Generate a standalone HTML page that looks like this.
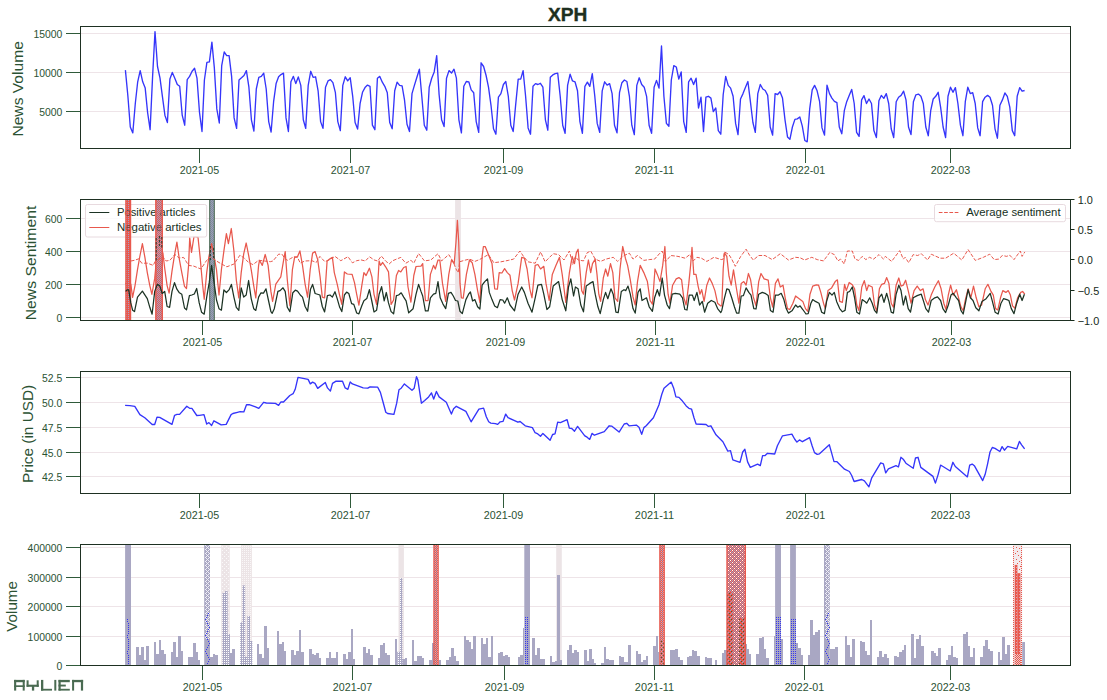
<!DOCTYPE html>
<html><head><meta charset="utf-8"><title>XPH</title>
<style>html,body{margin:0;padding:0;background:#fff;}body{width:1107px;height:700px;overflow:hidden;font-family:"Liberation Sans",sans-serif;}svg{display:block;}</style></head>
<body>
<svg width="1107" height="700" viewBox="0 0 1107 700" font-family="Liberation Sans, sans-serif">
<defs>
<pattern id="pRedDot" width="2" height="2" patternUnits="userSpaceOnUse"><rect width="2" height="2" fill="#e8584d"/><rect x="0" y="0" width="1" height="1" fill="#a3a3c8"/></pattern>
<pattern id="pChk" width="2" height="2" patternUnits="userSpaceOnUse"><rect width="2" height="2" fill="#a3a3c8"/><rect x="0" y="0" width="1" height="1" fill="#e8584d"/><rect x="1" y="1" width="1" height="1" fill="#e8584d"/></pattern>
<pattern id="pGry" width="2" height="2" patternUnits="userSpaceOnUse"><rect width="2" height="2" fill="#9d9dba"/><rect x="0" y="0" width="1" height="1" fill="#7f8f9a"/><rect x="1" y="1" width="1" height="1" fill="#7f8f9a"/></pattern>
<pattern id="pLtDot" width="2" height="2" patternUnits="userSpaceOnUse"><rect width="2" height="2" fill="#ece4e6"/><rect x="0" y="0" width="1" height="1" fill="#faf7f8"/></pattern>
<pattern id="pBarDot" width="2" height="2" patternUnits="userSpaceOnUse"><rect width="2" height="2" fill="#a9a7c3"/><rect x="0" y="0" width="1" height="1" fill="#ffffff"/></pattern>
<pattern id="pWide" width="4" height="4" patternUnits="userSpaceOnUse"><rect width="4" height="4" fill="#e8584d"/><rect x="0" y="0" width="1" height="1" fill="#a3a3c8"/><rect x="2" y="0" width="1" height="1" fill="#fff"/><rect x="1" y="1" width="1" height="1" fill="#a3a3c8"/><rect x="3" y="1" width="1" height="1" fill="#a3a3c8"/><rect x="0" y="2" width="1" height="1" fill="#fff"/><rect x="2" y="2" width="1" height="1" fill="#a3a3c8"/><rect x="1" y="3" width="1" height="1" fill="#a3a3c8"/><rect x="3" y="3" width="1" height="1" fill="#a3a3c8"/></pattern>
<pattern id="pWide2" width="2" height="2" patternUnits="userSpaceOnUse"><rect width="2" height="2" fill="#e8584d"/><rect x="0" y="0" width="1" height="1" fill="#a3a3c8"/><rect x="1" y="1" width="1" height="1" fill="#e9a39f"/></pattern>
<pattern id="pGrnDot" width="4" height="4" patternUnits="userSpaceOnUse"><rect x="1" y="1" width="1" height="1" fill="#3f5f3a"/><rect x="3" y="3" width="1" height="1" fill="#3f5f3a"/></pattern>
<pattern id="pRedX" width="2" height="2" patternUnits="userSpaceOnUse"><rect width="2" height="2" fill="#efc9c9"/><rect x="0" y="0" width="1" height="1" fill="#e8584d"/><rect x="1" y="1" width="1" height="1" fill="#e8584d"/></pattern>
<clipPath id="c0"><rect x="80.5" y="26.5" width="990.0" height="122.0"/></clipPath>
<clipPath id="c1"><rect x="80.5" y="199.5" width="990.0" height="121.0"/></clipPath>
<clipPath id="c2"><rect x="80.5" y="371.5" width="990.0" height="122.0"/></clipPath>
<clipPath id="c3"><rect x="80.5" y="544.5" width="990.0" height="121.0"/></clipPath>
<clipPath id="cb"><rect x="125.2" y="199" width="6" height="122"/><rect x="155.1" y="199" width="7.9" height="122"/><rect x="209.2" y="199" width="5.6" height="122"/></clipPath>
<clipPath id="cb3"><rect x="210.2" y="199" width="3.6" height="122"/></clipPath>
<clipPath id="cbc"><rect x="126.6" y="199" width="3.4" height="122"/><rect x="156.6" y="199" width="5.0" height="122"/></clipPath>
<pattern id="pDotV" width="1" height="2" patternUnits="userSpaceOnUse"><rect width="1" height="1" fill="#e8584d"/></pattern>
<pattern id="pDotL" width="1" height="3" patternUnits="userSpaceOnUse"><rect width="1" height="1" fill="#dba0ae"/></pattern>
<pattern id="pSparse" width="4" height="4" patternUnits="userSpaceOnUse"><rect width="4" height="4" fill="#e8584d"/><rect x="0" y="0" width="1" height="1" fill="#a3a3c8"/><rect x="2" y="2" width="1" height="1" fill="#a3a3c8"/><rect x="3" y="1" width="1" height="1" fill="#a3a3c8"/></pattern>
<pattern id="pLtDot4" width="4" height="4" patternUnits="userSpaceOnUse"><rect width="4" height="4" fill="#ece4e6"/><rect x="0" y="0" width="1" height="1" fill="#fbf9fa"/><rect x="2" y="2" width="1" height="1" fill="#fbf9fa"/></pattern>
</defs>
<rect width="1107" height="700" fill="#fff"/>
<line x1="80.5" x2="1070.5" y1="33.5" y2="33.5" stroke="#eee4e8" stroke-width="1"/>
<line x1="80.5" x2="1070.5" y1="72.5" y2="72.5" stroke="#eee4e8" stroke-width="1"/>
<line x1="80.5" x2="1070.5" y1="111.5" y2="111.5" stroke="#eee4e8" stroke-width="1"/>
<line x1="80.5" x2="1070.5" y1="218.5" y2="218.5" stroke="#eee4e8" stroke-width="1"/>
<line x1="80.5" x2="1070.5" y1="251.5" y2="251.5" stroke="#eee4e8" stroke-width="1"/>
<line x1="80.5" x2="1070.5" y1="284.5" y2="284.5" stroke="#eee4e8" stroke-width="1"/>
<line x1="80.5" x2="1070.5" y1="317.5" y2="317.5" stroke="#eee4e8" stroke-width="1"/>
<line x1="80.5" x2="1070.5" y1="377.5" y2="377.5" stroke="#eee4e8" stroke-width="1"/>
<line x1="80.5" x2="1070.5" y1="402.5" y2="402.5" stroke="#eee4e8" stroke-width="1"/>
<line x1="80.5" x2="1070.5" y1="427.5" y2="427.5" stroke="#eee4e8" stroke-width="1"/>
<line x1="80.5" x2="1070.5" y1="452.5" y2="452.5" stroke="#eee4e8" stroke-width="1"/>
<line x1="80.5" x2="1070.5" y1="476.5" y2="476.5" stroke="#eee4e8" stroke-width="1"/>
<line x1="80.5" x2="1070.5" y1="547.5" y2="547.5" stroke="#eee4e8" stroke-width="1"/>
<line x1="80.5" x2="1070.5" y1="577.5" y2="577.5" stroke="#eee4e8" stroke-width="1"/>
<line x1="80.5" x2="1070.5" y1="606.5" y2="606.5" stroke="#eee4e8" stroke-width="1"/>
<line x1="80.5" x2="1070.5" y1="636.5" y2="636.5" stroke="#eee4e8" stroke-width="1"/>
<g clip-path="url(#c0)"><polyline points="125.4,70.1 127.9,96.3 130.3,127.0 132.8,132.9 135.3,103.5 137.7,81.8 140.2,70.6 142.7,81.8 145.2,88.1 147.6,112.5 150.1,129.7 152.6,76.4 155.0,31.6 157.5,66.5 160.0,78.2 162.4,96.3 164.9,115.2 167.4,122.5 169.9,79.1 172.3,72.4 174.8,78.2 177.3,84.5 179.7,86.3 182.2,115.2 184.7,125.2 187.2,79.6 189.6,76.4 192.1,71.3 194.6,68.3 197.0,78.2 199.5,112.5 202.0,131.5 204.4,80.0 206.9,62.3 209.4,61.9 211.9,42.1 214.3,67.4 216.8,108.9 219.3,123.0 221.7,65.6 224.2,52.0 226.7,55.6 229.1,55.6 231.6,76.4 234.1,117.9 236.6,128.4 239.0,80.0 241.5,77.8 244.0,75.5 246.4,70.6 248.9,87.2 251.4,119.8 253.9,131.0 256.3,89.0 258.8,77.3 261.3,76.4 263.7,73.1 266.2,89.0 268.7,121.6 271.1,132.0 273.6,101.7 276.1,83.6 278.6,76.8 281.0,74.6 283.5,73.1 286.0,117.9 288.4,131.5 290.9,81.8 293.4,76.4 295.8,83.6 298.3,76.9 300.8,85.4 303.3,119.8 305.7,128.4 308.2,85.4 310.7,71.3 313.1,77.3 315.6,76.8 318.1,90.8 320.6,121.6 323.0,128.4 325.5,87.2 328.0,80.9 330.4,79.6 332.9,82.7 335.4,92.7 337.8,121.6 340.3,130.6 342.8,85.4 345.3,76.8 347.7,80.9 350.2,77.7 352.7,96.3 355.1,122.5 357.6,129.1 360.1,103.5 362.5,92.3 365.0,87.6 367.5,85.1 370.0,86.3 372.4,125.2 374.9,129.7 377.4,78.2 379.8,76.4 382.3,82.2 384.8,86.3 387.3,92.7 389.7,122.5 392.2,128.8 394.7,90.8 397.1,82.2 399.6,85.4 402.1,85.8 404.5,99.9 407.0,124.3 409.5,131.5 412.0,93.6 414.4,85.4 416.9,77.3 419.4,69.2 421.8,96.3 424.3,125.2 426.8,130.2 429.2,87.2 431.7,78.2 434.2,71.9 436.7,55.6 439.1,94.5 441.6,119.8 444.1,126.6 446.5,78.2 449.0,70.6 451.5,73.1 454.0,69.2 456.4,78.2 458.9,119.8 461.4,132.9 463.8,86.3 466.3,81.5 468.8,81.8 471.2,89.9 473.7,92.7 476.2,121.6 478.7,132.4 481.1,62.8 483.6,66.5 486.1,75.5 488.5,87.2 491.0,105.3 493.5,128.8 495.9,134.2 498.4,97.2 500.9,93.6 503.4,84.5 505.8,81.5 508.3,96.3 510.8,125.2 513.2,131.5 515.7,104.4 518.2,79.1 520.7,79.1 523.1,70.6 525.6,96.3 528.1,127.9 530.5,134.2 533.0,86.3 535.5,83.6 537.9,84.5 540.4,83.3 542.9,87.2 545.4,119.8 547.8,130.2 550.3,77.3 552.8,74.9 555.2,73.7 557.7,73.1 560.2,96.3 562.7,125.2 565.1,133.3 567.6,85.4 570.1,74.2 572.5,80.9 575.0,81.8 577.5,90.8 579.9,121.6 582.4,133.3 584.9,86.3 587.4,82.2 589.8,86.3 592.3,73.7 594.8,96.3 597.2,123.4 599.7,132.4 602.2,90.8 604.6,81.8 607.1,85.1 609.6,83.6 612.1,93.6 614.5,125.2 617.0,132.9 619.5,92.7 621.9,82.7 624.4,80.0 626.9,81.5 629.4,96.3 631.8,125.2 634.3,134.6 636.8,85.4 639.2,77.8 641.7,84.5 644.2,87.2 646.6,96.3 649.1,125.2 651.6,133.3 654.1,87.2 656.5,80.4 659.0,88.1 661.5,46.0 663.9,96.3 666.4,123.4 668.9,126.3 671.3,80.0 673.8,65.6 676.3,67.0 678.8,79.1 681.2,71.9 683.7,121.6 686.2,132.4 688.6,81.8 691.1,78.2 693.6,84.5 696.1,78.2 698.5,108.0 701.0,97.2 703.5,131.5 705.9,97.2 708.4,96.3 710.9,98.1 713.3,111.6 715.8,108.0 718.3,130.6 720.8,134.2 723.2,94.5 725.7,76.4 728.2,85.4 730.6,88.1 733.1,96.3 735.6,123.4 738.0,134.6 740.5,99.0 743.0,93.6 745.5,87.2 747.9,81.5 750.4,101.7 752.9,122.5 755.3,132.4 757.8,93.6 760.3,84.5 762.8,89.0 765.2,90.5 767.7,95.4 770.2,127.0 772.6,135.1 775.1,93.6 777.6,94.5 780.0,91.8 782.5,98.1 785.0,119.8 787.5,136.9 789.9,139.3 792.4,127.0 794.9,119.4 797.3,118.9 799.8,117.0 802.3,126.1 804.8,140.5 807.2,141.8 809.7,108.9 812.2,89.9 814.6,85.4 817.1,90.8 819.6,101.7 822.0,127.9 824.5,135.1 827.0,85.1 829.5,93.6 831.9,98.1 834.4,101.3 836.9,102.6 839.3,127.0 841.8,133.8 844.3,110.7 846.7,101.7 849.2,95.4 851.7,89.4 854.2,103.5 856.6,132.4 859.1,136.4 861.6,99.9 864.0,95.7 866.5,103.5 869.0,99.0 871.5,103.5 873.9,130.6 876.4,137.5 878.9,100.8 881.3,95.4 883.8,98.4 886.3,93.6 888.7,103.5 891.2,128.8 893.7,137.5 896.2,101.7 898.6,97.2 901.1,95.4 903.6,91.2 906.0,99.9 908.5,127.0 911.0,134.6 913.4,101.7 915.9,94.8 918.4,94.1 920.9,96.3 923.3,103.5 925.8,127.0 928.3,135.7 930.7,110.7 933.2,99.0 935.7,96.3 938.2,92.3 940.6,107.1 943.1,127.0 945.6,137.5 948.0,96.3 950.5,87.2 953.0,92.3 955.4,87.6 957.9,103.5 960.4,125.2 962.9,135.7 965.3,101.7 967.8,87.2 970.3,93.6 972.7,92.7 975.2,103.5 977.7,127.9 980.1,135.7 982.6,101.7 985.1,97.2 987.6,95.4 990.0,97.2 992.5,105.3 995.0,128.8 997.4,138.2 999.9,105.3 1002.4,99.9 1004.9,93.0 1007.3,96.3 1009.8,107.1 1012.3,130.6 1014.7,135.7 1017.2,96.3 1019.7,87.6 1022.1,91.2 1024.6,90.5" fill="none" stroke="#3535fa" stroke-width="1.35" stroke-linejoin="round" /></g>
<g clip-path="url(#c1)">
<rect x="455.1" y="199.5" width="5.8" height="121.0" fill="#ece4e6"/>
<polyline points="125.6,282.7 127.2,285.6 130.8,284.1 132.6,297.4 135.0,285.6 137.5,269.7 139.9,256.0 142.4,243.7 144.9,257.4 147.3,272.6 149.8,285.6 151.9,294.3 154.7,278.4 157.3,250.9 159.0,239.3 161.2,248.0 162.9,253.1 164.7,268.2 167.1,285.6 169.1,293.1 172.0,271.1 174.5,255.2 176.9,242.2 179.4,259.6 181.8,272.6 184.5,286.3 186.5,288.5 188.6,265.4 189.7,237.9 191.5,252.3 194.0,236.5 198.0,237.2 200.2,258.1 202.4,282.7 204.2,299.3 206.7,272.6 208.9,256.7 211.6,243.7 214.1,256.7 216.5,269.7 219.0,295.0 221.4,269.7 223.9,250.9 226.4,233.6 228.4,243.7 231.3,228.5 233.9,250.9 236.3,279.8 238.8,297.9 241.2,272.6 243.7,253.8 246.2,243.0 248.6,255.2 251.2,269.7 253.7,285.6 255.8,297.9 258.6,265.4 259.5,260.3 262.3,265.4 265.2,254.5 268.1,265.4 270.9,291.4 272.6,301.5 275.8,284.1 278.7,279.8 280.8,276.9 283.7,259.6 285.2,251.6 287.3,279.8 289.9,305.8 292.4,269.7 294.6,257.4 297.5,256.7 299.9,250.9 302.5,265.4 305.1,284.1 307.6,297.1 310.2,269.7 312.6,253.1 315.1,251.6 317.7,259.6 320.1,276.9 322.3,297.1 324.6,297.9 327.1,261.0 330.0,258.8 332.4,257.4 334.3,272.6 337.2,284.1 339.4,294.3 341.8,304.4 344.4,271.9 347.3,274.0 352.1,274.3 354.5,282.7 356.7,294.3 358.9,305.1 361.8,285.6 363.9,272.6 366.1,275.5 369.4,268.2 371.9,276.9 374.0,294.3 376.6,304.4 379.1,261.0 380.5,265.4 382.7,262.5 385.6,266.8 388.5,271.9 391.1,304.4 393.6,300.0 396.4,275.5 398.6,270.4 400.8,271.9 403.7,267.5 406.1,266.5 408.0,287.0 410.9,302.2 413.8,275.5 416.0,266.5 421.0,266.1 422.7,263.6 425.4,300.5 428.1,300.5 430.4,274.4 433.5,265.4 435.3,269.0 438.0,260.0 439.8,260.0 442.5,283.4 445.7,301.4 448.8,274.4 451.5,260.0 454.2,263.6 456.0,242.0 457.4,220.4 458.7,242.0 460.0,283.4 461.4,297.8 463.2,298.2 466.4,274.4 469.5,260.0 472.2,262.7 474.9,274.4 477.6,290.6 479.9,302.3 482.1,256.4 483.4,246.5 485.2,246.5 488.4,254.6 492.0,263.6 494.7,288.8 497.4,289.2 499.2,272.6 501.9,273.0 504.6,268.6 507.3,272.6 510.0,275.3 512.2,290.6 514.5,300.0 518.1,283.4 521.7,257.3 524.4,258.2 527.1,269.0 529.8,288.8 532.0,297.8 535.2,265.4 537.9,264.5 540.6,269.0 543.8,266.3 546.0,283.4 549.2,300.5 552.3,274.4 555.9,265.4 559.5,257.3 562.2,274.4 565.8,302.3 569.4,272.6 572.2,256.4 574.5,263.6 576.3,252.8 578.1,249.2 579.9,269.0 581.7,290.6 583.5,294.2 586.2,272.6 588.4,260.0 590.7,272.6 592.5,263.6 595.2,259.1 597.0,274.4 598.8,294.2 600.6,301.4 603.3,278.0 605.6,269.0 607.8,276.2 610.5,263.6 612.8,272.6 615.0,297.8 617.7,301.4 620.0,269.0 622.7,246.5 625.4,258.2 627.6,265.4 630.3,279.8 633.0,296.9 635.2,305.0 637.5,281.6 640.2,265.4 643.8,272.6 647.4,281.6 650.1,300.5 652.4,304.1 655.0,269.0 657.3,274.4 660.0,281.6 662.7,265.4 664.9,246.5 666.3,272.6 668.1,294.2 669.9,303.2 672.6,285.2 676.2,278.9 678.9,277.6 681.6,279.8 683.8,297.8 686.1,305.0 688.8,283.4 690.6,265.4 692.0,247.4 693.8,274.4 696.0,274.4 698.1,286.1 699.9,294.2 701.7,289.7 704.1,301.4 706.8,285.2 709.5,278.0 712.2,283.4 714.9,290.6 717.6,303.2 720.8,305.9 721.8,305.9 723.2,269.0 724.5,252.8 726.8,256.4 729.0,276.2 731.2,285.2 733.5,269.9 736.2,287.0 738.9,303.2 741.2,283.4 743.8,281.6 746.1,285.2 748.4,273.5 750.6,279.8 753.3,296.9 756.0,305.9 758.7,281.6 761.0,273.5 764.1,278.9 768.2,280.2 770.4,297.8 772.7,307.2 775.4,283.4 778.0,278.9 780.3,287.0 783.0,285.2 785.2,297.8 787.5,308.6 789.8,309.5 792.9,303.2 795.6,296.0 799.2,298.7 802.8,301.4 805.5,308.6 807.8,311.3 810.0,294.2 812.7,286.1 816.3,284.8 818.6,285.2 820.8,292.4 823.5,303.2 825.3,308.6 828.0,290.6 831.6,287.9 835.2,281.6 837.4,279.8 839.7,301.4 842.4,302.3 844.6,284.3 846.3,290.6 849.2,282.5 852.3,284.8 854.6,288.8 856.8,305.0 858.9,310.4 861.8,287.0 864.3,280.7 866.7,290.6 868.5,285.2 872.2,287.0 874.5,305.0 876.8,311.3 879.4,288.8 881.7,284.3 884.4,283.4 886.7,277.6 888.9,283.4 891.2,303.2 893.4,307.2 896.1,285.2 898.8,278.0 901.0,286.1 903.3,285.2 905.6,280.2 908.2,290.6 911.0,303.2 914.1,290.6 917.2,286.1 920.4,290.6 923.1,288.8 925.4,299.6 928.0,305.0 931.2,295.1 934.8,287.0 938.4,280.7 941.1,288.8 943.8,303.2 946.0,309.5 948.3,295.1 950.6,285.2 953.2,295.1 956.4,289.7 958.6,297.8 960.9,306.8 963.2,310.8 965.4,299.6 968.1,288.8 970.8,297.8 973.5,286.1 976.2,297.8 978.9,306.8 981.6,305.0 985.2,288.8 987.9,284.3 990.6,290.6 993.3,295.1 995.6,308.6 997.8,310.0 1000.5,297.8 1002.8,290.6 1005.9,292.4 1008.2,290.6 1010.4,295.1 1012.5,305.9 1014.9,308.2 1017.6,297.8 1020.8,292.4 1022.6,291.5 1024.8,294.2" fill="none" stroke="#e8584d" stroke-width="1.25" stroke-linejoin="round" />
<polyline points="125.6,291.4 127.2,289.9 128.7,289.9 130.8,302.9 132.6,310.2 134.5,311.6 137.5,297.1 142.4,291.1 147.3,298.6 149.8,307.3 152.1,314.2 154.7,291.4 157.3,284.4 159.7,285.6 162.2,293.5 164.7,291.4 167.1,306.5 169.6,307.3 172.0,291.4 174.5,282.7 176.9,289.2 179.4,292.8 181.8,294.3 184.5,308.0 186.5,309.9 189.4,295.7 191.8,295.0 194.3,294.0 196.7,288.5 199.2,302.9 201.6,312.3 204.2,314.2 206.7,297.1 209.2,282.7 211.6,265.4 214.1,282.7 216.5,300.0 219.0,308.7 221.4,310.2 223.9,289.9 226.4,292.5 229.0,289.9 231.4,284.4 233.9,297.1 236.3,307.3 238.8,310.4 241.2,287.8 243.7,297.1 246.2,295.0 248.6,280.5 251.2,298.6 253.7,308.7 255.8,310.4 258.6,297.1 261.0,292.8 263.5,293.1 266.0,288.8 268.4,300.0 270.9,311.6 272.2,313.3 274.3,308.7 277.9,291.4 280.1,290.6 283.0,287.8 285.2,291.4 287.3,307.3 289.9,311.6 292.8,292.8 295.3,290.2 297.5,291.1 300.3,295.0 302.5,297.1 305.1,306.5 307.6,311.3 310.5,289.2 312.6,284.4 315.1,293.5 319.9,295.0 322.3,306.5 324.6,311.9 327.4,295.7 330.0,295.0 332.4,297.1 335.0,291.7 337.2,298.6 339.7,307.3 341.8,311.6 344.4,295.0 346.6,292.1 348.8,293.5 351.6,303.6 353.8,304.4 356.7,313.0 358.9,313.8 361.8,305.8 363.9,300.8 366.8,298.6 369.4,289.6 371.9,301.5 374.0,311.9 376.6,310.2 379.1,294.3 381.6,286.7 384.2,300.8 386.3,292.5 388.5,302.9 391.1,311.6 393.6,313.8 396.4,295.7 398.6,295.0 401.2,292.8 403.7,297.1 406.1,300.8 408.7,312.8 413.1,308.7 416.0,294.3 418.6,284.4 421.0,291.4 422.7,296.0 425.4,310.8 428.1,310.8 430.4,297.8 433.5,294.2 435.8,293.3 438.0,281.6 440.2,297.8 443.0,304.1 445.7,308.6 448.4,293.3 451.0,292.4 453.3,296.0 455.5,300.5 457.8,301.0 460.0,311.3 462.3,313.6 465.9,299.6 468.6,294.2 470.4,292.0 472.6,301.0 474.9,299.6 477.6,306.8 479.9,309.0 482.1,285.2 484.8,281.6 487.5,278.9 489.3,292.4 492.0,299.6 494.7,305.9 497.4,307.7 500.1,299.6 502.8,300.0 504.6,303.2 507.3,297.8 510.0,305.0 514.5,310.8 518.1,294.2 521.7,287.0 524.4,292.4 528.0,303.2 532.0,312.2 535.2,297.8 537.9,285.2 541.5,284.3 543.8,294.2 546.9,309.5 549.6,306.8 553.2,286.1 558.6,281.6 562.2,299.6 565.8,310.8 568.5,287.0 570.8,278.9 573.6,296.0 575.4,287.0 578.1,288.8 580.8,305.0 583.5,311.8 586.2,286.1 589.8,283.4 593.0,281.6 595.2,294.2 597.9,306.8 600.2,313.6 603.3,299.6 605.6,292.4 607.8,298.7 611.0,288.8 613.2,294.2 615.9,312.2 618.2,312.6 621.3,291.5 624.0,289.7 625.8,290.6 628.0,286.1 630.3,294.2 633.0,308.6 635.2,313.1 638.0,292.4 640.2,288.8 642.0,300.5 646.5,297.8 649.2,306.8 652.4,311.3 654.6,297.8 657.3,289.7 659.5,296.0 662.2,278.0 664.5,295.1 667.2,305.0 669.5,308.6 672.2,294.2 675.3,293.3 679.8,294.2 682.5,297.8 684.8,309.5 687.0,310.0 689.2,295.1 692.4,295.1 694.2,300.5 696.9,292.4 699.6,305.0 702.3,301.4 704.6,312.2 707.7,303.2 711.3,300.5 714.9,302.3 717.6,308.6 720.8,312.6 721.8,310.4 724.5,297.8 726.8,288.8 729.0,289.7 731.7,297.8 734.4,306.8 736.6,313.1 738.9,313.1 741.2,296.0 743.4,295.6 746.1,287.9 748.8,292.4 751.0,295.1 753.8,308.6 756.0,309.0 758.7,294.2 762.3,292.4 765.0,293.3 768.2,295.6 770.4,310.4 773.1,312.2 775.4,295.1 778.5,295.1 781.2,293.3 783.9,299.6 786.2,308.6 788.4,313.1 792.0,310.8 795.6,305.0 797.8,307.2 800.1,305.9 802.8,309.5 806.0,314.0 808.2,313.6 810.9,303.2 812.7,299.6 815.4,301.4 819.0,303.2 821.7,312.2 824.4,313.6 826.6,301.4 829.4,292.4 832.0,295.1 834.3,292.4 836.6,301.4 839.7,308.6 842.4,311.8 845.1,310.4 847.4,292.4 849.6,291.5 852.3,287.0 854.6,297.8 856.8,312.2 859.5,314.0 862.2,299.6 864.9,301.4 866.7,303.2 869.7,297.8 872.2,303.2 874.5,310.4 876.8,313.1 879.0,297.8 881.7,294.2 884.0,302.3 886.7,293.3 888.9,301.4 891.2,312.2 893.4,313.1 896.1,294.2 898.8,285.2 901.0,290.6 903.3,305.0 905.6,296.0 908.2,308.6 910.5,312.2 913.2,297.8 917.2,295.6 921.3,294.2 923.6,301.4 925.8,308.6 928.5,312.2 931.2,300.5 934.8,297.8 937.5,296.9 940.6,300.5 942.9,308.6 945.6,312.6 948.3,305.0 951.0,295.1 953.2,293.3 956.4,297.8 958.6,300.5 960.9,310.4 963.2,314.0 965.4,303.2 968.1,289.7 970.4,297.8 973.0,300.5 975.8,307.7 978.9,310.8 982.0,301.4 986.1,298.7 990.2,293.3 992.4,301.4 995.1,312.2 998.1,314.0 1001.0,303.2 1003.5,298.7 1006.8,299.6 1008.9,300.5 1011.3,308.6 1014.0,313.6 1016.7,303.2 1019.7,294.2 1022.1,300.5 1024.4,294.2" fill="none" stroke="#1c3324" stroke-width="1.25" stroke-linejoin="round" />
<rect x="85.5" y="204.5" width="121.2" height="32.5" rx="2" fill="#fff" fill-opacity="0.8" stroke="#e8dadf" stroke-width="1"/>
<line x1="89.3" x2="109.3" y1="212.5" y2="212.5" stroke="#1c3324" stroke-width="1.1"/>
<text x="116.9" y="216" font-size="10.8" fill="#16301d" textLength="78.4" lengthAdjust="spacingAndGlyphs">Positive articles</text>
<line x1="89.3" x2="109.3" y1="227.5" y2="227.5" stroke="#e8584d" stroke-width="1.1"/>
<text x="116.9" y="230.7" font-size="10.8" fill="#16301d" textLength="84.6" lengthAdjust="spacingAndGlyphs">Negative articles</text>
<rect x="125.2" y="199.5" width="6" height="121.0" fill="#e8584d"/>
<rect x="126.6" y="199.5" width="3.4" height="121.0" fill="url(#pRedDot)"/>
<rect x="155.1" y="199.5" width="7.9" height="121.0" fill="#e8584d"/>
<rect x="156.6" y="199.5" width="5.0" height="121.0" fill="url(#pChk)"/>
<rect x="209.2" y="199.5" width="5.6" height="121.0" fill="#3f5f49"/>
<rect x="210.2" y="199.5" width="3.6" height="121.0" fill="url(#pGry)"/>
<g clip-path="url(#cb3)"><polyline points="125.6,282.7 127.2,285.6 130.8,284.1 132.6,297.4 135.0,285.6 137.5,269.7 139.9,256.0 142.4,243.7 144.9,257.4 147.3,272.6 149.8,285.6 151.9,294.3 154.7,278.4 157.3,250.9 159.0,239.3 161.2,248.0 162.9,253.1 164.7,268.2 167.1,285.6 169.1,293.1 172.0,271.1 174.5,255.2 176.9,242.2 179.4,259.6 181.8,272.6 184.5,286.3 186.5,288.5 188.6,265.4 189.7,237.9 191.5,252.3 194.0,236.5 198.0,237.2 200.2,258.1 202.4,282.7 204.2,299.3 206.7,272.6 208.9,256.7 211.6,243.7 214.1,256.7 216.5,269.7 219.0,295.0 221.4,269.7 223.9,250.9 226.4,233.6 228.4,243.7 231.3,228.5 233.9,250.9 236.3,279.8 238.8,297.9 241.2,272.6 243.7,253.8 246.2,243.0 248.6,255.2 251.2,269.7 253.7,285.6 255.8,297.9 258.6,265.4 259.5,260.3 262.3,265.4 265.2,254.5 268.1,265.4 270.9,291.4 272.6,301.5 275.8,284.1 278.7,279.8 280.8,276.9 283.7,259.6 285.2,251.6 287.3,279.8 289.9,305.8 292.4,269.7 294.6,257.4 297.5,256.7 299.9,250.9 302.5,265.4 305.1,284.1 307.6,297.1 310.2,269.7 312.6,253.1 315.1,251.6 317.7,259.6 320.1,276.9 322.3,297.1 324.6,297.9 327.1,261.0 330.0,258.8 332.4,257.4 334.3,272.6 337.2,284.1 339.4,294.3 341.8,304.4 344.4,271.9 347.3,274.0 352.1,274.3 354.5,282.7 356.7,294.3 358.9,305.1 361.8,285.6 363.9,272.6 366.1,275.5 369.4,268.2 371.9,276.9 374.0,294.3 376.6,304.4 379.1,261.0 380.5,265.4 382.7,262.5 385.6,266.8 388.5,271.9 391.1,304.4 393.6,300.0 396.4,275.5 398.6,270.4 400.8,271.9 403.7,267.5 406.1,266.5 408.0,287.0 410.9,302.2 413.8,275.5 416.0,266.5 421.0,266.1 422.7,263.6 425.4,300.5 428.1,300.5 430.4,274.4 433.5,265.4 435.3,269.0 438.0,260.0 439.8,260.0 442.5,283.4 445.7,301.4 448.8,274.4 451.5,260.0 454.2,263.6 456.0,242.0 457.4,220.4 458.7,242.0 460.0,283.4 461.4,297.8 463.2,298.2 466.4,274.4 469.5,260.0 472.2,262.7 474.9,274.4 477.6,290.6 479.9,302.3 482.1,256.4 483.4,246.5 485.2,246.5 488.4,254.6 492.0,263.6 494.7,288.8 497.4,289.2 499.2,272.6 501.9,273.0 504.6,268.6 507.3,272.6 510.0,275.3 512.2,290.6 514.5,300.0 518.1,283.4 521.7,257.3 524.4,258.2 527.1,269.0 529.8,288.8 532.0,297.8 535.2,265.4 537.9,264.5 540.6,269.0 543.8,266.3 546.0,283.4 549.2,300.5 552.3,274.4 555.9,265.4 559.5,257.3 562.2,274.4 565.8,302.3 569.4,272.6 572.2,256.4 574.5,263.6 576.3,252.8 578.1,249.2 579.9,269.0 581.7,290.6 583.5,294.2 586.2,272.6 588.4,260.0 590.7,272.6 592.5,263.6 595.2,259.1 597.0,274.4 598.8,294.2 600.6,301.4 603.3,278.0 605.6,269.0 607.8,276.2 610.5,263.6 612.8,272.6 615.0,297.8 617.7,301.4 620.0,269.0 622.7,246.5 625.4,258.2 627.6,265.4 630.3,279.8 633.0,296.9 635.2,305.0 637.5,281.6 640.2,265.4 643.8,272.6 647.4,281.6 650.1,300.5 652.4,304.1 655.0,269.0 657.3,274.4 660.0,281.6 662.7,265.4 664.9,246.5 666.3,272.6 668.1,294.2 669.9,303.2 672.6,285.2 676.2,278.9 678.9,277.6 681.6,279.8 683.8,297.8 686.1,305.0 688.8,283.4 690.6,265.4 692.0,247.4 693.8,274.4 696.0,274.4 698.1,286.1 699.9,294.2 701.7,289.7 704.1,301.4 706.8,285.2 709.5,278.0 712.2,283.4 714.9,290.6 717.6,303.2 720.8,305.9 721.8,305.9 723.2,269.0 724.5,252.8 726.8,256.4 729.0,276.2 731.2,285.2 733.5,269.9 736.2,287.0 738.9,303.2 741.2,283.4 743.8,281.6 746.1,285.2 748.4,273.5 750.6,279.8 753.3,296.9 756.0,305.9 758.7,281.6 761.0,273.5 764.1,278.9 768.2,280.2 770.4,297.8 772.7,307.2 775.4,283.4 778.0,278.9 780.3,287.0 783.0,285.2 785.2,297.8 787.5,308.6 789.8,309.5 792.9,303.2 795.6,296.0 799.2,298.7 802.8,301.4 805.5,308.6 807.8,311.3 810.0,294.2 812.7,286.1 816.3,284.8 818.6,285.2 820.8,292.4 823.5,303.2 825.3,308.6 828.0,290.6 831.6,287.9 835.2,281.6 837.4,279.8 839.7,301.4 842.4,302.3 844.6,284.3 846.3,290.6 849.2,282.5 852.3,284.8 854.6,288.8 856.8,305.0 858.9,310.4 861.8,287.0 864.3,280.7 866.7,290.6 868.5,285.2 872.2,287.0 874.5,305.0 876.8,311.3 879.4,288.8 881.7,284.3 884.4,283.4 886.7,277.6 888.9,283.4 891.2,303.2 893.4,307.2 896.1,285.2 898.8,278.0 901.0,286.1 903.3,285.2 905.6,280.2 908.2,290.6 911.0,303.2 914.1,290.6 917.2,286.1 920.4,290.6 923.1,288.8 925.4,299.6 928.0,305.0 931.2,295.1 934.8,287.0 938.4,280.7 941.1,288.8 943.8,303.2 946.0,309.5 948.3,295.1 950.6,285.2 953.2,295.1 956.4,289.7 958.6,297.8 960.9,306.8 963.2,310.8 965.4,299.6 968.1,288.8 970.8,297.8 973.5,286.1 976.2,297.8 978.9,306.8 981.6,305.0 985.2,288.8 987.9,284.3 990.6,290.6 993.3,295.1 995.6,308.6 997.8,310.0 1000.5,297.8 1002.8,290.6 1005.9,292.4 1008.2,290.6 1010.4,295.1 1012.5,305.9 1014.9,308.2 1017.6,297.8 1020.8,292.4 1022.6,291.5 1024.8,294.2" fill="none" stroke="#e8584d" stroke-width="1.25" stroke-linejoin="round" /></g>
<g clip-path="url(#cb)"><polyline points="125.6,291.4 127.2,289.9 128.7,289.9 130.8,302.9 132.6,310.2 134.5,311.6 137.5,297.1 142.4,291.1 147.3,298.6 149.8,307.3 152.1,314.2 154.7,291.4 157.3,284.4 159.7,285.6 162.2,293.5 164.7,291.4 167.1,306.5 169.6,307.3 172.0,291.4 174.5,282.7 176.9,289.2 179.4,292.8 181.8,294.3 184.5,308.0 186.5,309.9 189.4,295.7 191.8,295.0 194.3,294.0 196.7,288.5 199.2,302.9 201.6,312.3 204.2,314.2 206.7,297.1 209.2,282.7 211.6,265.4 214.1,282.7 216.5,300.0 219.0,308.7 221.4,310.2 223.9,289.9 226.4,292.5 229.0,289.9 231.4,284.4 233.9,297.1 236.3,307.3 238.8,310.4 241.2,287.8 243.7,297.1 246.2,295.0 248.6,280.5 251.2,298.6 253.7,308.7 255.8,310.4 258.6,297.1 261.0,292.8 263.5,293.1 266.0,288.8 268.4,300.0 270.9,311.6 272.2,313.3 274.3,308.7 277.9,291.4 280.1,290.6 283.0,287.8 285.2,291.4 287.3,307.3 289.9,311.6 292.8,292.8 295.3,290.2 297.5,291.1 300.3,295.0 302.5,297.1 305.1,306.5 307.6,311.3 310.5,289.2 312.6,284.4 315.1,293.5 319.9,295.0 322.3,306.5 324.6,311.9 327.4,295.7 330.0,295.0 332.4,297.1 335.0,291.7 337.2,298.6 339.7,307.3 341.8,311.6 344.4,295.0 346.6,292.1 348.8,293.5 351.6,303.6 353.8,304.4 356.7,313.0 358.9,313.8 361.8,305.8 363.9,300.8 366.8,298.6 369.4,289.6 371.9,301.5 374.0,311.9 376.6,310.2 379.1,294.3 381.6,286.7 384.2,300.8 386.3,292.5 388.5,302.9 391.1,311.6 393.6,313.8 396.4,295.7 398.6,295.0 401.2,292.8 403.7,297.1 406.1,300.8 408.7,312.8 413.1,308.7 416.0,294.3 418.6,284.4 421.0,291.4 422.7,296.0 425.4,310.8 428.1,310.8 430.4,297.8 433.5,294.2 435.8,293.3 438.0,281.6 440.2,297.8 443.0,304.1 445.7,308.6 448.4,293.3 451.0,292.4 453.3,296.0 455.5,300.5 457.8,301.0 460.0,311.3 462.3,313.6 465.9,299.6 468.6,294.2 470.4,292.0 472.6,301.0 474.9,299.6 477.6,306.8 479.9,309.0 482.1,285.2 484.8,281.6 487.5,278.9 489.3,292.4 492.0,299.6 494.7,305.9 497.4,307.7 500.1,299.6 502.8,300.0 504.6,303.2 507.3,297.8 510.0,305.0 514.5,310.8 518.1,294.2 521.7,287.0 524.4,292.4 528.0,303.2 532.0,312.2 535.2,297.8 537.9,285.2 541.5,284.3 543.8,294.2 546.9,309.5 549.6,306.8 553.2,286.1 558.6,281.6 562.2,299.6 565.8,310.8 568.5,287.0 570.8,278.9 573.6,296.0 575.4,287.0 578.1,288.8 580.8,305.0 583.5,311.8 586.2,286.1 589.8,283.4 593.0,281.6 595.2,294.2 597.9,306.8 600.2,313.6 603.3,299.6 605.6,292.4 607.8,298.7 611.0,288.8 613.2,294.2 615.9,312.2 618.2,312.6 621.3,291.5 624.0,289.7 625.8,290.6 628.0,286.1 630.3,294.2 633.0,308.6 635.2,313.1 638.0,292.4 640.2,288.8 642.0,300.5 646.5,297.8 649.2,306.8 652.4,311.3 654.6,297.8 657.3,289.7 659.5,296.0 662.2,278.0 664.5,295.1 667.2,305.0 669.5,308.6 672.2,294.2 675.3,293.3 679.8,294.2 682.5,297.8 684.8,309.5 687.0,310.0 689.2,295.1 692.4,295.1 694.2,300.5 696.9,292.4 699.6,305.0 702.3,301.4 704.6,312.2 707.7,303.2 711.3,300.5 714.9,302.3 717.6,308.6 720.8,312.6 721.8,310.4 724.5,297.8 726.8,288.8 729.0,289.7 731.7,297.8 734.4,306.8 736.6,313.1 738.9,313.1 741.2,296.0 743.4,295.6 746.1,287.9 748.8,292.4 751.0,295.1 753.8,308.6 756.0,309.0 758.7,294.2 762.3,292.4 765.0,293.3 768.2,295.6 770.4,310.4 773.1,312.2 775.4,295.1 778.5,295.1 781.2,293.3 783.9,299.6 786.2,308.6 788.4,313.1 792.0,310.8 795.6,305.0 797.8,307.2 800.1,305.9 802.8,309.5 806.0,314.0 808.2,313.6 810.9,303.2 812.7,299.6 815.4,301.4 819.0,303.2 821.7,312.2 824.4,313.6 826.6,301.4 829.4,292.4 832.0,295.1 834.3,292.4 836.6,301.4 839.7,308.6 842.4,311.8 845.1,310.4 847.4,292.4 849.6,291.5 852.3,287.0 854.6,297.8 856.8,312.2 859.5,314.0 862.2,299.6 864.9,301.4 866.7,303.2 869.7,297.8 872.2,303.2 874.5,310.4 876.8,313.1 879.0,297.8 881.7,294.2 884.0,302.3 886.7,293.3 888.9,301.4 891.2,312.2 893.4,313.1 896.1,294.2 898.8,285.2 901.0,290.6 903.3,305.0 905.6,296.0 908.2,308.6 910.5,312.2 913.2,297.8 917.2,295.6 921.3,294.2 923.6,301.4 925.8,308.6 928.5,312.2 931.2,300.5 934.8,297.8 937.5,296.9 940.6,300.5 942.9,308.6 945.6,312.6 948.3,305.0 951.0,295.1 953.2,293.3 956.4,297.8 958.6,300.5 960.9,310.4 963.2,314.0 965.4,303.2 968.1,289.7 970.4,297.8 973.0,300.5 975.8,307.7 978.9,310.8 982.0,301.4 986.1,298.7 990.2,293.3 992.4,301.4 995.1,312.2 998.1,314.0 1001.0,303.2 1003.5,298.7 1006.8,299.6 1008.9,300.5 1011.3,308.6 1014.0,313.6 1016.7,303.2 1019.7,294.2 1022.1,300.5 1024.4,294.2" fill="none" stroke="#1c3324" stroke-width="1.25" stroke-linejoin="round" /></g>
<g clip-path="url(#cbc)" opacity="0.55"><text x="116.9" y="216" font-size="10.8" fill="#16301d" textLength="78.4" lengthAdjust="spacingAndGlyphs">Positive articles</text><text x="116.9" y="230.7" font-size="10.8" fill="#16301d" textLength="84.6" lengthAdjust="spacingAndGlyphs">Negative articles</text></g>
<path d="M210.4,246 V260 M213.6,248 V258" stroke="#1c3324" stroke-width="0.9" stroke-dasharray="2.5,1.5" fill="none"/>
<path d="M156.2,238 V262 M159.4,236 V246 M161.8,237 V248" stroke="#1c3324" stroke-width="0.9" stroke-dasharray="2.5,1.5" fill="none"/>
<polyline points="130.8,261.0 134.5,260.3 138.8,258.8 141.7,263.2 147.5,263.2 153.2,265.4 155.4,261.0 159.0,258.8 163.4,257.4 166.2,261.0 169.9,260.3 174.9,254.5 179.2,258.1 183.6,257.4 188.6,265.4 193.7,266.1 200.9,269.0 206.7,260.3 210.3,256.7 215.4,260.3 221.2,263.9 226.9,266.8 234.2,263.9 239.9,255.2 244.3,258.1 248.6,262.5 252.9,264.6 258.7,260.3 264.5,261.0 270.3,261.7 272.9,261.0 278.7,254.1 282.3,254.5 284.5,258.1 287.3,260.3 290.2,258.8 293.8,256.7 297.5,257.4 300.3,263.2 304.7,261.0 311.9,260.7 316.2,262.5 319.9,256.4 324.9,261.7 329.2,259.9 335.0,256.4 340.8,260.7 348.0,256.7 352.4,262.8 356.7,260.7 361.0,259.9 365.4,261.0 369.4,256.7 374.0,259.9 377.7,261.0 381.3,256.0 385.6,261.0 389.2,263.9 392.8,260.7 397.2,258.8 400.8,257.4 405.8,263.2 410.9,260.3 413.8,263.2 418.6,253.5 424.5,260.9 430.8,260.0 438.0,253.7 441.6,260.9 448.8,254.6 453.3,261.8 456.0,269.0 458.2,272.6 459.6,261.8 464.1,260.4 469.5,259.1 474.9,261.4 479.4,259.6 488.4,254.6 493.8,262.7 501.0,261.8 508.2,260.4 513.6,259.1 519.9,251.0 523.5,256.4 528.0,261.8 535.2,263.2 540.6,251.9 545.1,261.8 553.2,253.7 558.6,254.6 564.0,260.0 569.4,251.0 572.7,264.5 575.4,256.4 578.1,260.0 583.5,260.9 587.1,252.8 590.7,251.0 595.2,259.1 600.6,261.4 606.0,259.1 613.2,257.3 617.7,261.4 624.0,255.5 629.4,253.2 633.0,259.1 637.5,255.5 643.8,260.4 649.2,259.6 654.6,259.1 658.2,255.0 662.2,251.0 665.4,261.8 670.8,255.5 678.0,256.4 685.2,258.2 689.7,254.6 693.3,260.9 696.9,257.3 701.4,258.2 706.8,261.4 714.0,257.3 721.2,259.6 723.2,259.1 724.5,251.9 729.0,254.6 731.7,259.1 735.3,266.3 740.7,256.4 746.1,249.2 749.7,255.5 753.3,260.0 758.7,255.5 765.0,255.5 772.2,259.6 780.3,253.7 788.4,260.0 795.6,257.3 800.1,257.8 804.6,260.0 811.8,257.3 817.2,259.6 823.5,260.9 829.8,252.4 834.3,254.6 837.9,260.9 840.6,259.1 844.2,264.0 847.4,251.0 852.3,251.0 855.0,259.1 858.6,260.4 862.2,256.4 865.8,259.6 869.4,257.3 873.6,259.1 879.0,254.6 883.5,259.1 885.3,256.4 891.6,261.4 899.7,250.6 903.3,259.1 905.1,257.3 908.7,262.7 913.2,254.6 917.7,255.5 921.3,253.7 927.6,260.0 931.2,254.2 940.2,258.2 945.6,258.2 953.7,253.2 961.8,260.0 968.1,249.6 975.3,260.4 983.4,257.3 989.7,254.2 994.2,259.6 998.7,259.1 1002.3,255.5 1006.8,256.4 1009.5,255.0 1014.0,259.6 1020.3,251.0 1022.1,256.4 1024.8,251.9" fill="none" stroke="#e8584d" stroke-width="1.0" stroke-linejoin="round" stroke-dasharray="3.7,1.6"/>
</g>
<g clip-path="url(#c2)"><polyline points="125.1,405.4 129.9,405.6 134.8,406.3 139.9,414.6 144.8,417.7 152.2,424.5 154.7,424.5 157.0,417.1 159.7,417.3 172.0,424.4 174.6,415.3 176.9,414.4 179.6,414.4 186.8,406.3 189.6,408.3 191.9,408.3 196.8,415.5 199.5,415.3 204.0,414.6 206.7,424.0 208.9,422.6 211.6,425.5 213.9,420.8 221.2,424.9 226.2,424.4 231.1,414.6 232.9,413.5 237.4,412.3 240.1,411.7 243.8,411.9 246.5,404.7 249.2,404.7 255.5,406.8 258.8,408.3 263.6,402.3 266.3,403.0 275.4,403.4 278.6,405.4 280.8,402.0 283.5,402.0 289.8,395.5 293.1,393.7 295.2,389.3 298.0,377.4 308.1,379.4 310.3,383.9 312.6,382.1 315.0,383.4 317.7,388.4 325.3,382.5 327.5,387.9 330.4,391.1 332.5,383.4 336.1,381.2 342.5,381.2 345.2,387.9 347.9,389.3 350.2,381.9 352.4,383.9 363.2,387.9 367.8,388.2 370.1,386.8 377.7,387.2 380.4,392.4 383.1,402.3 385.8,412.3 387.6,413.5 393.9,414.4 396.7,403.2 399.0,389.7 401.2,388.2 404.4,383.9 412.0,390.2 414.2,388.2 416.5,376.7 417.8,379.7 421.4,403.2 424.7,400.5 428.6,396.9 431.5,392.9 433.7,399.1 436.4,391.5 439.1,396.9 446.3,402.3 449.1,408.7 451.4,414.1 453.6,408.7 456.3,406.3 465.9,411.4 468.6,416.8 471.1,421.8 478.9,409.2 483.6,408.1 486.3,416.8 488.7,421.8 490.8,423.1 495.4,423.6 497.7,424.4 500.2,421.8 503.1,421.3 505.7,414.1 508.0,417.7 517.9,422.2 520.1,421.5 525.2,425.8 532.4,427.6 535.1,432.7 537.8,433.9 540.5,436.3 542.9,433.4 550.1,440.3 552.6,434.5 555.0,433.9 557.7,422.2 560.4,422.6 567.1,419.7 569.4,428.2 571.8,428.5 574.5,431.2 577.6,426.4 584.8,435.8 587.1,437.2 589.7,439.4 592.0,433.4 594.4,435.2 604.3,431.6 609.2,425.8 611.9,426.2 619.1,432.1 624.2,424.0 626.7,423.3 629.1,425.8 636.3,425.1 639.0,427.3 641.7,434.3 643.9,427.6 646.2,425.8 653.4,417.7 658.9,405.0 661.8,394.2 664.0,388.2 671.2,382.1 673.6,387.9 675.9,396.9 679.0,397.4 681.7,400.2 686.2,405.9 688.9,408.3 691.6,409.2 694.0,417.7 696.1,424.0 706.1,424.5 708.4,426.4 710.9,425.8 716.0,434.8 722.9,441.7 727.8,451.1 730.5,450.7 732.8,459.8 740.0,462.3 742.7,452.0 744.9,449.3 747.6,461.9 750.3,467.4 757.6,464.1 760.3,465.6 762.6,455.6 765.1,455.6 767.5,453.3 774.7,454.0 777.4,445.7 782.5,435.8 791.9,434.1 794.6,439.0 796.9,442.1 799.5,439.9 802.4,441.7 809.6,437.6 812.1,445.7 814.5,452.6 817.2,454.4 819.5,453.8 829.3,444.8 831.6,452.9 834.0,461.6 836.7,461.6 844.5,469.2 849.4,471.5 851.7,475.5 854.1,481.5 861.7,479.5 864.4,480.9 868.9,486.9 871.6,478.2 880.7,462.9 883.4,463.8 885.7,472.8 888.4,468.8 896.0,465.6 898.4,467.0 900.9,457.3 903.2,459.2 905.9,463.2 913.2,468.3 915.5,458.0 918.0,457.3 920.8,467.4 933.0,476.4 935.4,483.1 938.1,474.6 940.6,465.2 943.0,466.5 950.2,471.0 952.9,462.3 955.3,466.5 967.4,476.9 969.7,465.2 972.2,464.1 974.6,466.1 982.7,480.6 985.1,474.6 987.6,463.8 990.0,452.0 992.3,447.5 995.0,448.4 999.9,451.5 1002.1,446.6 1004.4,450.2 1007.7,446.4 1016.7,448.9 1019.4,441.4 1021.6,444.8 1024.6,448.8" fill="none" stroke="#3535fa" stroke-width="1.35" stroke-linejoin="round" /></g>
<g clip-path="url(#c3)">
<rect x="221.2" y="544.5" width="8.6" height="121.0" fill="url(#pLtDot4)"/>
<rect x="241.0" y="544.5" width="10.9" height="121.0" fill="url(#pLtDot)"/>
<rect x="398.5" y="544.5" width="5.4" height="121.0" fill="#ece4e6"/>
<rect x="556.2" y="544.5" width="5.6" height="121.0" fill="#ece4e6"/>
<g shape-rendering="crispEdges">
<rect x="136" y="647" width="3" height="18.5" fill="#a9a7c3"/>
<rect x="139" y="655" width="2" height="10.5" fill="#a9a7c3"/>
<rect x="141" y="647" width="3" height="18.5" fill="#a9a7c3"/>
<rect x="144" y="660" width="2" height="5.5" fill="#a9a7c3"/>
<rect x="146" y="646" width="3" height="19.5" fill="#a9a7c3"/>
<rect x="154" y="642" width="2" height="23.5" fill="#a9a7c3"/>
<rect x="156" y="654" width="3" height="11.5" fill="#a9a7c3"/>
<rect x="159" y="640" width="2" height="25.5" fill="#a9a7c3"/>
<rect x="161" y="650" width="3" height="15.5" fill="#a9a7c3"/>
<rect x="164" y="654" width="2" height="11.5" fill="#a9a7c3"/>
<rect x="171" y="652" width="2" height="13.5" fill="#a9a7c3"/>
<rect x="173" y="642" width="3" height="23.5" fill="#a9a7c3"/>
<rect x="176" y="657" width="2" height="8.5" fill="#a9a7c3"/>
<rect x="178" y="636" width="3" height="29.5" fill="#a9a7c3"/>
<rect x="181" y="651" width="2" height="14.5" fill="#a9a7c3"/>
<rect x="188" y="657" width="3" height="8.5" fill="#a9a7c3"/>
<rect x="191" y="657" width="2" height="8.5" fill="#a9a7c3"/>
<rect x="193" y="643" width="3" height="22.5" fill="#a9a7c3"/>
<rect x="196" y="652" width="2" height="13.5" fill="#a9a7c3"/>
<rect x="198" y="660" width="2" height="5.5" fill="#a9a7c3"/>
<rect x="210" y="657" width="3" height="8.5" fill="#a9a7c3"/>
<rect x="213" y="654" width="2" height="11.5" fill="#a9a7c3"/>
<rect x="215" y="655" width="3" height="10.5" fill="#a9a7c3"/>
<rect x="230" y="653" width="2" height="12.5" fill="#a9a7c3"/>
<rect x="232" y="649" width="3" height="16.5" fill="#a9a7c3"/>
<rect x="257" y="644" width="2" height="21.5" fill="#a9a7c3"/>
<rect x="259" y="654" width="3" height="11.5" fill="#a9a7c3"/>
<rect x="262" y="658" width="2" height="7.5" fill="#a9a7c3"/>
<rect x="264" y="626" width="3" height="39.5" fill="#a9a7c3"/>
<rect x="267" y="648" width="2" height="17.5" fill="#a9a7c3"/>
<rect x="277" y="631" width="2" height="34.5" fill="#a9a7c3"/>
<rect x="279" y="644" width="3" height="21.5" fill="#a9a7c3"/>
<rect x="282" y="642" width="2" height="23.5" fill="#a9a7c3"/>
<rect x="284" y="651" width="2" height="14.5" fill="#a9a7c3"/>
<rect x="291" y="650" width="3" height="15.5" fill="#a9a7c3"/>
<rect x="294" y="655" width="2" height="10.5" fill="#a9a7c3"/>
<rect x="296" y="651" width="3" height="14.5" fill="#a9a7c3"/>
<rect x="299" y="630" width="2" height="35.5" fill="#a9a7c3"/>
<rect x="301" y="652" width="3" height="13.5" fill="#a9a7c3"/>
<rect x="309" y="649" width="3" height="16.5" fill="#a9a7c3"/>
<rect x="312" y="654" width="2" height="11.5" fill="#a9a7c3"/>
<rect x="314" y="655" width="2" height="10.5" fill="#a9a7c3"/>
<rect x="316" y="653" width="3" height="12.5" fill="#a9a7c3"/>
<rect x="319" y="658" width="2" height="7.5" fill="#a9a7c3"/>
<rect x="326" y="658" width="3" height="7.5" fill="#a9a7c3"/>
<rect x="329" y="652" width="2" height="13.5" fill="#a9a7c3"/>
<rect x="331" y="658" width="3" height="7.5" fill="#a9a7c3"/>
<rect x="334" y="658" width="2" height="7.5" fill="#a9a7c3"/>
<rect x="336" y="652" width="2" height="13.5" fill="#a9a7c3"/>
<rect x="343" y="654" width="3" height="11.5" fill="#a9a7c3"/>
<rect x="346" y="659" width="2" height="6.5" fill="#a9a7c3"/>
<rect x="348" y="652" width="3" height="13.5" fill="#a9a7c3"/>
<rect x="351" y="629" width="2" height="36.5" fill="#a9a7c3"/>
<rect x="353" y="659" width="2" height="6.5" fill="#a9a7c3"/>
<rect x="363" y="647" width="3" height="18.5" fill="#a9a7c3"/>
<rect x="366" y="653" width="2" height="12.5" fill="#a9a7c3"/>
<rect x="368" y="649" width="2" height="16.5" fill="#a9a7c3"/>
<rect x="370" y="655" width="3" height="10.5" fill="#a9a7c3"/>
<rect x="378" y="658" width="2" height="7.5" fill="#a9a7c3"/>
<rect x="380" y="645" width="3" height="20.5" fill="#a9a7c3"/>
<rect x="383" y="643" width="2" height="22.5" fill="#a9a7c3"/>
<rect x="385" y="653" width="2" height="12.5" fill="#a9a7c3"/>
<rect x="387" y="655" width="3" height="10.5" fill="#a9a7c3"/>
<rect x="395" y="639" width="2" height="26.5" fill="#a9a7c3"/>
<rect x="402" y="659" width="3" height="6.5" fill="#a9a7c3"/>
<rect x="405" y="658" width="2" height="7.5" fill="#a9a7c3"/>
<rect x="412" y="640" width="2" height="25.5" fill="#a9a7c3"/>
<rect x="414" y="661" width="3" height="4.5" fill="#a9a7c3"/>
<rect x="417" y="656" width="3" height="9.5" fill="#a9a7c3"/>
<rect x="420" y="656" width="2" height="9.5" fill="#a9a7c3"/>
<rect x="422" y="658" width="2" height="7.5" fill="#a9a7c3"/>
<rect x="429" y="660" width="3" height="5.5" fill="#a9a7c3"/>
<rect x="432" y="643" width="2" height="22.5" fill="#a9a7c3"/>
<rect x="439" y="660" width="2" height="5.5" fill="#a9a7c3"/>
<rect x="446" y="660" width="3" height="5.5" fill="#a9a7c3"/>
<rect x="449" y="657" width="2" height="8.5" fill="#a9a7c3"/>
<rect x="451" y="648" width="3" height="17.5" fill="#a9a7c3"/>
<rect x="454" y="656" width="2" height="9.5" fill="#a9a7c3"/>
<rect x="456" y="661" width="3" height="4.5" fill="#a9a7c3"/>
<rect x="464" y="636" width="2" height="29.5" fill="#a9a7c3"/>
<rect x="466" y="640" width="3" height="25.5" fill="#a9a7c3"/>
<rect x="469" y="642" width="2" height="23.5" fill="#a9a7c3"/>
<rect x="471" y="649" width="2" height="16.5" fill="#a9a7c3"/>
<rect x="473" y="636" width="3" height="29.5" fill="#a9a7c3"/>
<rect x="481" y="638" width="2" height="27.5" fill="#a9a7c3"/>
<rect x="483" y="644" width="3" height="21.5" fill="#a9a7c3"/>
<rect x="486" y="638" width="2" height="27.5" fill="#a9a7c3"/>
<rect x="488" y="657" width="3" height="8.5" fill="#a9a7c3"/>
<rect x="491" y="636" width="2" height="29.5" fill="#a9a7c3"/>
<rect x="498" y="653" width="2" height="12.5" fill="#a9a7c3"/>
<rect x="500" y="652" width="3" height="13.5" fill="#a9a7c3"/>
<rect x="503" y="656" width="2" height="9.5" fill="#a9a7c3"/>
<rect x="505" y="655" width="3" height="10.5" fill="#a9a7c3"/>
<rect x="508" y="657" width="2" height="8.5" fill="#a9a7c3"/>
<rect x="518" y="657" width="2" height="8.5" fill="#a9a7c3"/>
<rect x="520" y="655" width="3" height="10.5" fill="#a9a7c3"/>
<rect x="523" y="628" width="1" height="37.5" fill="#a9a7c3"/>
<rect x="532" y="638" width="3" height="27.5" fill="#a9a7c3"/>
<rect x="535" y="655" width="2" height="10.5" fill="#a9a7c3"/>
<rect x="537" y="648" width="3" height="17.5" fill="#a9a7c3"/>
<rect x="540" y="659" width="2" height="6.5" fill="#a9a7c3"/>
<rect x="542" y="659" width="3" height="6.5" fill="#a9a7c3"/>
<rect x="550" y="656" width="2" height="9.5" fill="#a9a7c3"/>
<rect x="552" y="662" width="3" height="3.5" fill="#a9a7c3"/>
<rect x="555" y="661" width="2" height="4.5" fill="#a9a7c3"/>
<rect x="557" y="575" width="3" height="90.5" fill="#a9a7c3"/>
<rect x="560" y="660" width="2" height="5.5" fill="#a9a7c3"/>
<rect x="567" y="650" width="2" height="15.5" fill="#a9a7c3"/>
<rect x="569" y="645" width="3" height="20.5" fill="#a9a7c3"/>
<rect x="572" y="653" width="2" height="12.5" fill="#a9a7c3"/>
<rect x="574" y="650" width="3" height="15.5" fill="#a9a7c3"/>
<rect x="577" y="652" width="2" height="13.5" fill="#a9a7c3"/>
<rect x="584" y="650" width="3" height="15.5" fill="#a9a7c3"/>
<rect x="587" y="661" width="2" height="4.5" fill="#a9a7c3"/>
<rect x="589" y="649" width="3" height="16.5" fill="#a9a7c3"/>
<rect x="592" y="659" width="2" height="6.5" fill="#a9a7c3"/>
<rect x="594" y="663" width="2" height="2.5" fill="#a9a7c3"/>
<rect x="601" y="663" width="3" height="2.5" fill="#a9a7c3"/>
<rect x="604" y="647" width="2" height="18.5" fill="#a9a7c3"/>
<rect x="606" y="659" width="3" height="6.5" fill="#a9a7c3"/>
<rect x="609" y="660" width="2" height="5.5" fill="#a9a7c3"/>
<rect x="611" y="660" width="3" height="5.5" fill="#a9a7c3"/>
<rect x="619" y="656" width="2" height="9.5" fill="#a9a7c3"/>
<rect x="621" y="657" width="3" height="8.5" fill="#a9a7c3"/>
<rect x="624" y="662" width="2" height="3.5" fill="#a9a7c3"/>
<rect x="626" y="662" width="2" height="3.5" fill="#a9a7c3"/>
<rect x="628" y="645" width="3" height="20.5" fill="#a9a7c3"/>
<rect x="636" y="651" width="2" height="14.5" fill="#a9a7c3"/>
<rect x="638" y="654" width="3" height="11.5" fill="#a9a7c3"/>
<rect x="641" y="662" width="2" height="3.5" fill="#a9a7c3"/>
<rect x="643" y="660" width="3" height="5.5" fill="#a9a7c3"/>
<rect x="646" y="656" width="2" height="9.5" fill="#a9a7c3"/>
<rect x="653" y="646" width="3" height="19.5" fill="#a9a7c3"/>
<rect x="656" y="636" width="2" height="29.5" fill="#a9a7c3"/>
<rect x="658" y="652" width="1" height="13.5" fill="#a9a7c3"/>
<rect x="670" y="650" width="3" height="15.5" fill="#a9a7c3"/>
<rect x="673" y="650" width="2" height="15.5" fill="#a9a7c3"/>
<rect x="675" y="649" width="3" height="16.5" fill="#a9a7c3"/>
<rect x="678" y="657" width="2" height="8.5" fill="#a9a7c3"/>
<rect x="680" y="660" width="3" height="5.5" fill="#a9a7c3"/>
<rect x="687" y="657" width="2" height="8.5" fill="#a9a7c3"/>
<rect x="689" y="656" width="3" height="9.5" fill="#a9a7c3"/>
<rect x="692" y="650" width="2" height="15.5" fill="#a9a7c3"/>
<rect x="694" y="651" width="3" height="14.5" fill="#a9a7c3"/>
<rect x="697" y="656" width="3" height="9.5" fill="#a9a7c3"/>
<rect x="705" y="657" width="2" height="8.5" fill="#a9a7c3"/>
<rect x="707" y="658" width="5" height="7.5" fill="#a9a7c3"/>
<rect x="715" y="660" width="2" height="5.5" fill="#a9a7c3"/>
<rect x="722" y="653" width="2" height="12.5" fill="#a9a7c3"/>
<rect x="724" y="650" width="3" height="15.5" fill="#a9a7c3"/>
<rect x="746" y="644" width="1" height="21.5" fill="#a9a7c3"/>
<rect x="747" y="649" width="2" height="16.5" fill="#a9a7c3"/>
<rect x="749" y="654" width="2" height="11.5" fill="#a9a7c3"/>
<rect x="756" y="654" width="3" height="11.5" fill="#a9a7c3"/>
<rect x="759" y="638" width="3" height="27.5" fill="#a9a7c3"/>
<rect x="762" y="637" width="2" height="28.5" fill="#a9a7c3"/>
<rect x="764" y="649" width="2" height="16.5" fill="#a9a7c3"/>
<rect x="766" y="658" width="3" height="7.5" fill="#a9a7c3"/>
<rect x="774" y="636" width="1" height="29.5" fill="#a9a7c3"/>
<rect x="781" y="639" width="2" height="26.5" fill="#a9a7c3"/>
<rect x="796" y="643" width="2" height="22.5" fill="#a9a7c3"/>
<rect x="798" y="648" width="3" height="17.5" fill="#a9a7c3"/>
<rect x="801" y="655" width="2" height="10.5" fill="#a9a7c3"/>
<rect x="808" y="655" width="2" height="10.5" fill="#a9a7c3"/>
<rect x="810" y="620" width="3" height="45.5" fill="#a9a7c3"/>
<rect x="813" y="635" width="2" height="30.5" fill="#a9a7c3"/>
<rect x="815" y="632" width="3" height="33.5" fill="#a9a7c3"/>
<rect x="818" y="630" width="2" height="35.5" fill="#a9a7c3"/>
<rect x="830" y="649" width="2" height="16.5" fill="#a9a7c3"/>
<rect x="832" y="649" width="3" height="16.5" fill="#a9a7c3"/>
<rect x="835" y="647" width="3" height="18.5" fill="#a9a7c3"/>
<rect x="845" y="636" width="2" height="29.5" fill="#a9a7c3"/>
<rect x="847" y="645" width="3" height="20.5" fill="#a9a7c3"/>
<rect x="850" y="657" width="2" height="8.5" fill="#a9a7c3"/>
<rect x="852" y="639" width="3" height="26.5" fill="#a9a7c3"/>
<rect x="860" y="641" width="2" height="24.5" fill="#a9a7c3"/>
<rect x="862" y="642" width="3" height="23.5" fill="#a9a7c3"/>
<rect x="865" y="651" width="2" height="14.5" fill="#a9a7c3"/>
<rect x="867" y="655" width="3" height="10.5" fill="#a9a7c3"/>
<rect x="870" y="620" width="2" height="45.5" fill="#a9a7c3"/>
<rect x="877" y="657" width="2" height="8.5" fill="#a9a7c3"/>
<rect x="879" y="651" width="3" height="14.5" fill="#a9a7c3"/>
<rect x="882" y="657" width="2" height="8.5" fill="#a9a7c3"/>
<rect x="884" y="654" width="3" height="11.5" fill="#a9a7c3"/>
<rect x="887" y="658" width="2" height="7.5" fill="#a9a7c3"/>
<rect x="894" y="656" width="3" height="9.5" fill="#a9a7c3"/>
<rect x="897" y="657" width="2" height="8.5" fill="#a9a7c3"/>
<rect x="899" y="652" width="3" height="13.5" fill="#a9a7c3"/>
<rect x="902" y="650" width="2" height="15.5" fill="#a9a7c3"/>
<rect x="904" y="645" width="2" height="20.5" fill="#a9a7c3"/>
<rect x="911" y="634" width="3" height="31.5" fill="#a9a7c3"/>
<rect x="914" y="658" width="2" height="7.5" fill="#a9a7c3"/>
<rect x="916" y="639" width="3" height="26.5" fill="#a9a7c3"/>
<rect x="919" y="635" width="2" height="30.5" fill="#a9a7c3"/>
<rect x="921" y="646" width="3" height="19.5" fill="#a9a7c3"/>
<rect x="931" y="651" width="3" height="14.5" fill="#a9a7c3"/>
<rect x="934" y="653" width="2" height="12.5" fill="#a9a7c3"/>
<rect x="936" y="656" width="2" height="9.5" fill="#a9a7c3"/>
<rect x="938" y="648" width="3" height="17.5" fill="#a9a7c3"/>
<rect x="946" y="660" width="2" height="5.5" fill="#a9a7c3"/>
<rect x="948" y="655" width="3" height="10.5" fill="#a9a7c3"/>
<rect x="951" y="646" width="2" height="19.5" fill="#a9a7c3"/>
<rect x="953" y="657" width="3" height="8.5" fill="#a9a7c3"/>
<rect x="956" y="658" width="2" height="7.5" fill="#a9a7c3"/>
<rect x="963" y="634" width="3" height="31.5" fill="#a9a7c3"/>
<rect x="966" y="632" width="2" height="33.5" fill="#a9a7c3"/>
<rect x="968" y="646" width="2" height="19.5" fill="#a9a7c3"/>
<rect x="970" y="657" width="3" height="8.5" fill="#a9a7c3"/>
<rect x="973" y="648" width="2" height="17.5" fill="#a9a7c3"/>
<rect x="980" y="657" width="3" height="8.5" fill="#a9a7c3"/>
<rect x="983" y="646" width="2" height="19.5" fill="#a9a7c3"/>
<rect x="985" y="640" width="3" height="25.5" fill="#a9a7c3"/>
<rect x="988" y="649" width="2" height="16.5" fill="#a9a7c3"/>
<rect x="990" y="651" width="3" height="14.5" fill="#a9a7c3"/>
<rect x="998" y="652" width="2" height="13.5" fill="#a9a7c3"/>
<rect x="1000" y="660" width="2" height="5.5" fill="#a9a7c3"/>
<rect x="1002" y="637" width="3" height="28.5" fill="#a9a7c3"/>
<rect x="1005" y="654" width="2" height="11.5" fill="#a9a7c3"/>
<rect x="1007" y="645" width="3" height="20.5" fill="#a9a7c3"/>
<rect x="1022" y="642" width="3" height="23.5" fill="#a9a7c3"/>
</g>
<rect x="222.44" y="593.1" width="2.63" height="72.4" fill="url(#pBarDot)"/>
<rect x="224.97" y="591.1" width="2.63" height="74.4" fill="url(#pBarDot)"/>
<rect x="227.50" y="634.1" width="2.45" height="31.4" fill="url(#pBarDot)"/>
<rect x="240.14" y="622.4" width="2.45" height="43.1" fill="url(#pBarDot)"/>
<rect x="242.49" y="585.4" width="2.63" height="80.1" fill="url(#pBarDot)"/>
<rect x="245.02" y="656.7" width="2.45" height="8.8" fill="url(#pBarDot)"/>
<rect x="247.37" y="616.1" width="2.63" height="49.4" fill="url(#pBarDot)"/>
<rect x="249.90" y="641.0" width="2.45" height="24.5" fill="url(#pBarDot)"/>
<rect x="397.20" y="651.8" width="2.81" height="13.7" fill="url(#pBarDot)"/>
<rect x="399.91" y="578.1" width="2.45" height="87.4" fill="url(#pBarDot)"/>
<rect x="125.1" y="544.5" width="5.9" height="121.0" fill="#a9a7c3"/>
<rect x="128" y="663" width="1" height="1" fill="#3636f0"/>
<rect x="128" y="661" width="1" height="1" fill="#3636f0"/>
<rect x="128" y="659" width="1" height="1" fill="#3636f0"/>
<rect x="128" y="657" width="1" height="1" fill="#3636f0"/>
<rect x="128" y="655" width="1" height="1" fill="#3636f0"/>
<rect x="127" y="653" width="1" height="1" fill="#3636f0"/>
<rect x="127" y="651" width="1" height="1" fill="#3636f0"/>
<rect x="128" y="649" width="1" height="1" fill="#3636f0"/>
<rect x="128" y="647" width="1" height="1" fill="#3636f0"/>
<rect x="128" y="645" width="1" height="1" fill="#3636f0"/>
<rect x="128" y="643" width="1" height="1" fill="#3636f0"/>
<rect x="128" y="641" width="1" height="1" fill="#3636f0"/>
<rect x="128" y="639" width="1" height="1" fill="#3636f0"/>
<rect x="127" y="637" width="1" height="1" fill="#3636f0"/>
<rect x="127" y="635" width="1" height="1" fill="#3636f0"/>
<rect x="128" y="633" width="1" height="1" fill="#3636f0"/>
<rect x="128" y="631" width="1" height="1" fill="#3636f0"/>
<rect x="128" y="629" width="1" height="1" fill="#3636f0"/>
<rect x="128" y="627" width="1" height="1" fill="#3636f0"/>
<rect x="128" y="625" width="1" height="1" fill="#3636f0"/>
<rect x="128" y="623" width="1" height="1" fill="#3636f0"/>
<rect x="127" y="621" width="1" height="1" fill="#3636f0"/>
<rect x="127" y="619" width="1" height="1" fill="#3636f0"/>
<rect x="204.2" y="544.5" width="5.8" height="121.0" fill="#a9a7c3"/>
<rect x="205" y="545" width="1" height="1" fill="#efeef6"/>
<rect x="209" y="545" width="1" height="1" fill="#efeef6"/>
<rect x="206" y="546" width="1" height="1" fill="#efeef6"/>
<rect x="208" y="546" width="1" height="1" fill="#efeef6"/>
<rect x="207" y="547" width="1" height="1" fill="#efeef6"/>
<rect x="207" y="547" width="1" height="1" fill="#efeef6"/>
<rect x="206" y="548" width="1" height="1" fill="#efeef6"/>
<rect x="208" y="548" width="1" height="1" fill="#efeef6"/>
<rect x="205" y="549" width="1" height="1" fill="#efeef6"/>
<rect x="209" y="549" width="1" height="1" fill="#efeef6"/>
<rect x="206" y="550" width="1" height="1" fill="#efeef6"/>
<rect x="208" y="550" width="1" height="1" fill="#efeef6"/>
<rect x="207" y="551" width="1" height="1" fill="#efeef6"/>
<rect x="207" y="551" width="1" height="1" fill="#efeef6"/>
<rect x="206" y="552" width="1" height="1" fill="#efeef6"/>
<rect x="208" y="552" width="1" height="1" fill="#efeef6"/>
<rect x="205" y="553" width="1" height="1" fill="#efeef6"/>
<rect x="209" y="553" width="1" height="1" fill="#efeef6"/>
<rect x="206" y="554" width="1" height="1" fill="#efeef6"/>
<rect x="208" y="554" width="1" height="1" fill="#efeef6"/>
<rect x="207" y="555" width="1" height="1" fill="#efeef6"/>
<rect x="207" y="555" width="1" height="1" fill="#efeef6"/>
<rect x="206" y="556" width="1" height="1" fill="#efeef6"/>
<rect x="208" y="556" width="1" height="1" fill="#efeef6"/>
<rect x="205" y="557" width="1" height="1" fill="#efeef6"/>
<rect x="209" y="557" width="1" height="1" fill="#efeef6"/>
<rect x="206" y="558" width="1" height="1" fill="#efeef6"/>
<rect x="208" y="558" width="1" height="1" fill="#efeef6"/>
<rect x="207" y="559" width="1" height="1" fill="#efeef6"/>
<rect x="207" y="559" width="1" height="1" fill="#efeef6"/>
<rect x="206" y="560" width="1" height="1" fill="#efeef6"/>
<rect x="208" y="560" width="1" height="1" fill="#efeef6"/>
<rect x="205" y="561" width="1" height="1" fill="#efeef6"/>
<rect x="209" y="561" width="1" height="1" fill="#efeef6"/>
<rect x="206" y="562" width="1" height="1" fill="#efeef6"/>
<rect x="208" y="562" width="1" height="1" fill="#efeef6"/>
<rect x="207" y="563" width="1" height="1" fill="#efeef6"/>
<rect x="207" y="563" width="1" height="1" fill="#efeef6"/>
<rect x="206" y="564" width="1" height="1" fill="#efeef6"/>
<rect x="208" y="564" width="1" height="1" fill="#efeef6"/>
<rect x="205" y="565" width="1" height="1" fill="#efeef6"/>
<rect x="209" y="565" width="1" height="1" fill="#efeef6"/>
<rect x="206" y="566" width="1" height="1" fill="#efeef6"/>
<rect x="208" y="566" width="1" height="1" fill="#efeef6"/>
<rect x="207" y="567" width="1" height="1" fill="#efeef6"/>
<rect x="207" y="567" width="1" height="1" fill="#efeef6"/>
<rect x="206" y="568" width="1" height="1" fill="#efeef6"/>
<rect x="208" y="568" width="1" height="1" fill="#efeef6"/>
<rect x="205" y="569" width="1" height="1" fill="#efeef6"/>
<rect x="209" y="569" width="1" height="1" fill="#efeef6"/>
<rect x="206" y="570" width="1" height="1" fill="#efeef6"/>
<rect x="208" y="570" width="1" height="1" fill="#efeef6"/>
<rect x="207" y="571" width="1" height="1" fill="#efeef6"/>
<rect x="207" y="571" width="1" height="1" fill="#efeef6"/>
<rect x="206" y="572" width="1" height="1" fill="#efeef6"/>
<rect x="208" y="572" width="1" height="1" fill="#efeef6"/>
<rect x="205" y="573" width="1" height="1" fill="#efeef6"/>
<rect x="209" y="573" width="1" height="1" fill="#efeef6"/>
<rect x="206" y="574" width="1" height="1" fill="#efeef6"/>
<rect x="208" y="574" width="1" height="1" fill="#efeef6"/>
<rect x="207" y="575" width="1" height="1" fill="#efeef6"/>
<rect x="207" y="575" width="1" height="1" fill="#efeef6"/>
<rect x="206" y="576" width="1" height="1" fill="#efeef6"/>
<rect x="208" y="576" width="1" height="1" fill="#efeef6"/>
<rect x="205" y="577" width="1" height="1" fill="#efeef6"/>
<rect x="209" y="577" width="1" height="1" fill="#efeef6"/>
<rect x="206" y="578" width="1" height="1" fill="#efeef6"/>
<rect x="208" y="578" width="1" height="1" fill="#efeef6"/>
<rect x="207" y="579" width="1" height="1" fill="#efeef6"/>
<rect x="207" y="579" width="1" height="1" fill="#efeef6"/>
<rect x="206" y="580" width="1" height="1" fill="#efeef6"/>
<rect x="208" y="580" width="1" height="1" fill="#efeef6"/>
<rect x="205" y="581" width="1" height="1" fill="#efeef6"/>
<rect x="209" y="581" width="1" height="1" fill="#efeef6"/>
<rect x="206" y="582" width="1" height="1" fill="#efeef6"/>
<rect x="208" y="582" width="1" height="1" fill="#efeef6"/>
<rect x="207" y="583" width="1" height="1" fill="#efeef6"/>
<rect x="207" y="583" width="1" height="1" fill="#efeef6"/>
<rect x="206" y="584" width="1" height="1" fill="#efeef6"/>
<rect x="208" y="584" width="1" height="1" fill="#efeef6"/>
<rect x="205" y="585" width="1" height="1" fill="#efeef6"/>
<rect x="209" y="585" width="1" height="1" fill="#efeef6"/>
<rect x="206" y="586" width="1" height="1" fill="#efeef6"/>
<rect x="208" y="586" width="1" height="1" fill="#efeef6"/>
<rect x="207" y="587" width="1" height="1" fill="#efeef6"/>
<rect x="207" y="587" width="1" height="1" fill="#efeef6"/>
<rect x="206" y="588" width="1" height="1" fill="#efeef6"/>
<rect x="208" y="588" width="1" height="1" fill="#efeef6"/>
<rect x="205" y="589" width="1" height="1" fill="#efeef6"/>
<rect x="209" y="589" width="1" height="1" fill="#efeef6"/>
<rect x="206" y="590" width="1" height="1" fill="#efeef6"/>
<rect x="208" y="590" width="1" height="1" fill="#efeef6"/>
<rect x="207" y="591" width="1" height="1" fill="#efeef6"/>
<rect x="207" y="591" width="1" height="1" fill="#efeef6"/>
<rect x="206" y="592" width="1" height="1" fill="#efeef6"/>
<rect x="208" y="592" width="1" height="1" fill="#efeef6"/>
<rect x="205" y="593" width="1" height="1" fill="#efeef6"/>
<rect x="209" y="593" width="1" height="1" fill="#efeef6"/>
<rect x="206" y="594" width="1" height="1" fill="#efeef6"/>
<rect x="208" y="594" width="1" height="1" fill="#efeef6"/>
<rect x="207" y="595" width="1" height="1" fill="#efeef6"/>
<rect x="207" y="595" width="1" height="1" fill="#efeef6"/>
<rect x="206" y="596" width="1" height="1" fill="#efeef6"/>
<rect x="208" y="596" width="1" height="1" fill="#efeef6"/>
<rect x="205" y="597" width="1" height="1" fill="#efeef6"/>
<rect x="209" y="597" width="1" height="1" fill="#efeef6"/>
<rect x="206" y="598" width="1" height="1" fill="#efeef6"/>
<rect x="208" y="598" width="1" height="1" fill="#efeef6"/>
<rect x="207" y="599" width="1" height="1" fill="#efeef6"/>
<rect x="207" y="599" width="1" height="1" fill="#efeef6"/>
<rect x="206" y="600" width="1" height="1" fill="#efeef6"/>
<rect x="208" y="600" width="1" height="1" fill="#efeef6"/>
<rect x="205" y="601" width="1" height="1" fill="#efeef6"/>
<rect x="209" y="601" width="1" height="1" fill="#efeef6"/>
<rect x="206" y="602" width="1" height="1" fill="#efeef6"/>
<rect x="208" y="602" width="1" height="1" fill="#efeef6"/>
<rect x="207" y="603" width="1" height="1" fill="#efeef6"/>
<rect x="207" y="603" width="1" height="1" fill="#efeef6"/>
<rect x="206" y="604" width="1" height="1" fill="#efeef6"/>
<rect x="208" y="604" width="1" height="1" fill="#efeef6"/>
<rect x="205" y="605" width="1" height="1" fill="#efeef6"/>
<rect x="209" y="605" width="1" height="1" fill="#efeef6"/>
<rect x="206" y="606" width="1" height="1" fill="#efeef6"/>
<rect x="208" y="606" width="1" height="1" fill="#efeef6"/>
<rect x="207" y="607" width="1" height="1" fill="#efeef6"/>
<rect x="207" y="607" width="1" height="1" fill="#efeef6"/>
<rect x="206" y="608" width="1" height="1" fill="#efeef6"/>
<rect x="208" y="608" width="1" height="1" fill="#efeef6"/>
<rect x="205" y="609" width="1" height="1" fill="#efeef6"/>
<rect x="209" y="609" width="1" height="1" fill="#efeef6"/>
<rect x="206" y="610" width="1" height="1" fill="#efeef6"/>
<rect x="208" y="610" width="1" height="1" fill="#efeef6"/>
<rect x="207" y="611" width="1" height="1" fill="#efeef6"/>
<rect x="207" y="611" width="1" height="1" fill="#efeef6"/>
<rect x="206" y="612" width="1" height="1" fill="#efeef6"/>
<rect x="208" y="612" width="1" height="1" fill="#efeef6"/>
<rect x="205" y="613" width="1" height="1" fill="#efeef6"/>
<rect x="209" y="613" width="1" height="1" fill="#efeef6"/>
<rect x="206" y="614" width="1" height="1" fill="#efeef6"/>
<rect x="208" y="614" width="1" height="1" fill="#efeef6"/>
<rect x="207" y="615" width="1" height="1" fill="#efeef6"/>
<rect x="207" y="615" width="1" height="1" fill="#efeef6"/>
<rect x="206" y="616" width="1" height="1" fill="#efeef6"/>
<rect x="208" y="616" width="1" height="1" fill="#efeef6"/>
<rect x="205" y="617" width="1" height="1" fill="#efeef6"/>
<rect x="209" y="617" width="1" height="1" fill="#efeef6"/>
<rect x="206" y="618" width="1" height="1" fill="#efeef6"/>
<rect x="208" y="618" width="1" height="1" fill="#efeef6"/>
<rect x="207" y="619" width="1" height="1" fill="#efeef6"/>
<rect x="207" y="619" width="1" height="1" fill="#efeef6"/>
<rect x="206" y="620" width="1" height="1" fill="#efeef6"/>
<rect x="208" y="620" width="1" height="1" fill="#efeef6"/>
<rect x="205" y="621" width="1" height="1" fill="#efeef6"/>
<rect x="209" y="621" width="1" height="1" fill="#efeef6"/>
<rect x="206" y="622" width="1" height="1" fill="#efeef6"/>
<rect x="208" y="622" width="1" height="1" fill="#efeef6"/>
<rect x="207" y="623" width="1" height="1" fill="#efeef6"/>
<rect x="207" y="623" width="1" height="1" fill="#efeef6"/>
<rect x="206" y="624" width="1" height="1" fill="#efeef6"/>
<rect x="208" y="624" width="1" height="1" fill="#efeef6"/>
<rect x="205" y="625" width="1" height="1" fill="#efeef6"/>
<rect x="209" y="625" width="1" height="1" fill="#efeef6"/>
<rect x="206" y="626" width="1" height="1" fill="#efeef6"/>
<rect x="208" y="626" width="1" height="1" fill="#efeef6"/>
<rect x="207" y="627" width="1" height="1" fill="#efeef6"/>
<rect x="207" y="627" width="1" height="1" fill="#efeef6"/>
<rect x="206" y="628" width="1" height="1" fill="#efeef6"/>
<rect x="208" y="628" width="1" height="1" fill="#efeef6"/>
<rect x="205" y="629" width="1" height="1" fill="#efeef6"/>
<rect x="209" y="629" width="1" height="1" fill="#efeef6"/>
<rect x="206" y="630" width="1" height="1" fill="#efeef6"/>
<rect x="208" y="630" width="1" height="1" fill="#efeef6"/>
<rect x="207" y="631" width="1" height="1" fill="#efeef6"/>
<rect x="207" y="631" width="1" height="1" fill="#efeef6"/>
<rect x="206" y="632" width="1" height="1" fill="#efeef6"/>
<rect x="208" y="632" width="1" height="1" fill="#efeef6"/>
<rect x="205" y="633" width="1" height="1" fill="#efeef6"/>
<rect x="209" y="633" width="1" height="1" fill="#efeef6"/>
<rect x="206" y="634" width="1" height="1" fill="#efeef6"/>
<rect x="208" y="634" width="1" height="1" fill="#efeef6"/>
<rect x="207" y="635" width="1" height="1" fill="#efeef6"/>
<rect x="207" y="635" width="1" height="1" fill="#efeef6"/>
<rect x="206" y="636" width="1" height="1" fill="#efeef6"/>
<rect x="208" y="636" width="1" height="1" fill="#efeef6"/>
<rect x="205" y="637" width="1" height="1" fill="#efeef6"/>
<rect x="209" y="637" width="1" height="1" fill="#efeef6"/>
<rect x="206" y="638" width="1" height="1" fill="#efeef6"/>
<rect x="208" y="638" width="1" height="1" fill="#efeef6"/>
<rect x="207" y="639" width="1" height="1" fill="#efeef6"/>
<rect x="207" y="639" width="1" height="1" fill="#efeef6"/>
<rect x="207" y="663" width="1" height="1" fill="#3636f0"/>
<rect x="208" y="661" width="1" height="1" fill="#3636f0"/>
<rect x="209" y="659" width="1" height="1" fill="#3636f0"/>
<rect x="208" y="657" width="1" height="1" fill="#3636f0"/>
<rect x="207" y="655" width="1" height="1" fill="#3636f0"/>
<rect x="206" y="653" width="1" height="1" fill="#3636f0"/>
<rect x="205" y="651" width="1" height="1" fill="#3636f0"/>
<rect x="206" y="649" width="1" height="1" fill="#3636f0"/>
<rect x="207" y="647" width="1" height="1" fill="#3636f0"/>
<rect x="208" y="645" width="1" height="1" fill="#3636f0"/>
<rect x="209" y="643" width="1" height="1" fill="#3636f0"/>
<rect x="208" y="641" width="1" height="1" fill="#3636f0"/>
<rect x="207" y="639" width="1" height="1" fill="#3636f0"/>
<rect x="206" y="637" width="1" height="1" fill="#3636f0"/>
<rect x="205" y="635" width="1" height="1" fill="#3636f0"/>
<rect x="206" y="633" width="1" height="1" fill="#3636f0"/>
<rect x="207" y="631" width="1" height="1" fill="#3636f0"/>
<rect x="208" y="629" width="1" height="1" fill="#3636f0"/>
<rect x="209" y="627" width="1" height="1" fill="#3636f0"/>
<rect x="208" y="625" width="1" height="1" fill="#3636f0"/>
<rect x="207" y="623" width="1" height="1" fill="#3636f0"/>
<rect x="206" y="621" width="1" height="1" fill="#3636f0"/>
<rect x="205" y="619" width="1" height="1" fill="#3636f0"/>
<rect x="206" y="617" width="1" height="1" fill="#3636f0"/>
<rect x="207" y="615" width="1" height="1" fill="#3636f0"/>
<rect x="208" y="613" width="1" height="1" fill="#3636f0"/>
<rect x="524.3" y="544.5" width="5.7" height="121.0" fill="#a9a7c3"/>
<rect x="525" y="663" width="1" height="1" fill="#3636f0"/>
<rect x="525" y="661" width="1" height="1" fill="#3636f0"/>
<rect x="525" y="659" width="1" height="1" fill="#3636f0"/>
<rect x="525" y="657" width="1" height="1" fill="#3636f0"/>
<rect x="525" y="655" width="1" height="1" fill="#3636f0"/>
<rect x="525" y="653" width="1" height="1" fill="#3636f0"/>
<rect x="525" y="651" width="1" height="1" fill="#3636f0"/>
<rect x="525" y="649" width="1" height="1" fill="#3636f0"/>
<rect x="525" y="647" width="1" height="1" fill="#3636f0"/>
<rect x="525" y="645" width="1" height="1" fill="#3636f0"/>
<rect x="525" y="643" width="1" height="1" fill="#3636f0"/>
<rect x="525" y="641" width="1" height="1" fill="#3636f0"/>
<rect x="525" y="639" width="1" height="1" fill="#3636f0"/>
<rect x="525" y="637" width="1" height="1" fill="#3636f0"/>
<rect x="525" y="635" width="1" height="1" fill="#3636f0"/>
<rect x="525" y="633" width="1" height="1" fill="#3636f0"/>
<rect x="525" y="631" width="1" height="1" fill="#3636f0"/>
<rect x="525" y="629" width="1" height="1" fill="#3636f0"/>
<rect x="525" y="627" width="1" height="1" fill="#3636f0"/>
<rect x="525" y="625" width="1" height="1" fill="#3636f0"/>
<rect x="525" y="623" width="1" height="1" fill="#3636f0"/>
<rect x="525" y="621" width="1" height="1" fill="#3636f0"/>
<rect x="525" y="619" width="1" height="1" fill="#3636f0"/>
<rect x="525" y="617" width="1" height="1" fill="#3636f0"/>
<rect x="527" y="663" width="1" height="1" fill="#3636f0"/>
<rect x="527" y="661" width="1" height="1" fill="#3636f0"/>
<rect x="527" y="659" width="1" height="1" fill="#3636f0"/>
<rect x="527" y="657" width="1" height="1" fill="#3636f0"/>
<rect x="527" y="655" width="1" height="1" fill="#3636f0"/>
<rect x="527" y="653" width="1" height="1" fill="#3636f0"/>
<rect x="527" y="651" width="1" height="1" fill="#3636f0"/>
<rect x="527" y="649" width="1" height="1" fill="#3636f0"/>
<rect x="527" y="647" width="1" height="1" fill="#3636f0"/>
<rect x="527" y="645" width="1" height="1" fill="#3636f0"/>
<rect x="527" y="643" width="1" height="1" fill="#3636f0"/>
<rect x="527" y="641" width="1" height="1" fill="#3636f0"/>
<rect x="527" y="639" width="1" height="1" fill="#3636f0"/>
<rect x="527" y="637" width="1" height="1" fill="#3636f0"/>
<rect x="527" y="635" width="1" height="1" fill="#3636f0"/>
<rect x="527" y="633" width="1" height="1" fill="#3636f0"/>
<rect x="527" y="631" width="1" height="1" fill="#3636f0"/>
<rect x="527" y="629" width="1" height="1" fill="#3636f0"/>
<rect x="527" y="627" width="1" height="1" fill="#3636f0"/>
<rect x="527" y="625" width="1" height="1" fill="#3636f0"/>
<rect x="527" y="623" width="1" height="1" fill="#3636f0"/>
<rect x="527" y="621" width="1" height="1" fill="#3636f0"/>
<rect x="527" y="619" width="1" height="1" fill="#3636f0"/>
<rect x="527" y="617" width="1" height="1" fill="#3636f0"/>
<rect x="775.1" y="544.5" width="5.9" height="121.0" fill="#a9a7c3"/>
<rect x="776" y="663" width="1" height="1" fill="#3636f0"/>
<rect x="776" y="661" width="1" height="1" fill="#3636f0"/>
<rect x="776" y="659" width="1" height="1" fill="#3636f0"/>
<rect x="776" y="657" width="1" height="1" fill="#3636f0"/>
<rect x="776" y="655" width="1" height="1" fill="#3636f0"/>
<rect x="776" y="653" width="1" height="1" fill="#3636f0"/>
<rect x="776" y="651" width="1" height="1" fill="#3636f0"/>
<rect x="776" y="649" width="1" height="1" fill="#3636f0"/>
<rect x="776" y="647" width="1" height="1" fill="#3636f0"/>
<rect x="776" y="645" width="1" height="1" fill="#3636f0"/>
<rect x="776" y="643" width="1" height="1" fill="#3636f0"/>
<rect x="776" y="641" width="1" height="1" fill="#3636f0"/>
<rect x="776" y="639" width="1" height="1" fill="#3636f0"/>
<rect x="776" y="637" width="1" height="1" fill="#3636f0"/>
<rect x="776" y="635" width="1" height="1" fill="#3636f0"/>
<rect x="776" y="633" width="1" height="1" fill="#3636f0"/>
<rect x="776" y="631" width="1" height="1" fill="#3636f0"/>
<rect x="776" y="629" width="1" height="1" fill="#3636f0"/>
<rect x="776" y="627" width="1" height="1" fill="#3636f0"/>
<rect x="776" y="625" width="1" height="1" fill="#3636f0"/>
<rect x="776" y="623" width="1" height="1" fill="#3636f0"/>
<rect x="776" y="621" width="1" height="1" fill="#3636f0"/>
<rect x="776" y="619" width="1" height="1" fill="#3636f0"/>
<rect x="776" y="617" width="1" height="1" fill="#3636f0"/>
<rect x="778" y="663" width="1" height="1" fill="#3636f0"/>
<rect x="778" y="661" width="1" height="1" fill="#3636f0"/>
<rect x="778" y="659" width="1" height="1" fill="#3636f0"/>
<rect x="778" y="657" width="1" height="1" fill="#3636f0"/>
<rect x="778" y="655" width="1" height="1" fill="#3636f0"/>
<rect x="778" y="653" width="1" height="1" fill="#3636f0"/>
<rect x="778" y="651" width="1" height="1" fill="#3636f0"/>
<rect x="778" y="649" width="1" height="1" fill="#3636f0"/>
<rect x="778" y="647" width="1" height="1" fill="#3636f0"/>
<rect x="778" y="645" width="1" height="1" fill="#3636f0"/>
<rect x="778" y="643" width="1" height="1" fill="#3636f0"/>
<rect x="778" y="641" width="1" height="1" fill="#3636f0"/>
<rect x="778" y="639" width="1" height="1" fill="#3636f0"/>
<rect x="778" y="637" width="1" height="1" fill="#3636f0"/>
<rect x="778" y="635" width="1" height="1" fill="#3636f0"/>
<rect x="778" y="633" width="1" height="1" fill="#3636f0"/>
<rect x="778" y="631" width="1" height="1" fill="#3636f0"/>
<rect x="778" y="629" width="1" height="1" fill="#3636f0"/>
<rect x="778" y="627" width="1" height="1" fill="#3636f0"/>
<rect x="778" y="625" width="1" height="1" fill="#3636f0"/>
<rect x="778" y="623" width="1" height="1" fill="#3636f0"/>
<rect x="778" y="621" width="1" height="1" fill="#3636f0"/>
<rect x="778" y="619" width="1" height="1" fill="#3636f0"/>
<rect x="778" y="617" width="1" height="1" fill="#3636f0"/>
<rect x="780" y="663" width="1" height="1" fill="#3636f0"/>
<rect x="780" y="661" width="1" height="1" fill="#3636f0"/>
<rect x="780" y="659" width="1" height="1" fill="#3636f0"/>
<rect x="780" y="657" width="1" height="1" fill="#3636f0"/>
<rect x="780" y="655" width="1" height="1" fill="#3636f0"/>
<rect x="780" y="653" width="1" height="1" fill="#3636f0"/>
<rect x="780" y="651" width="1" height="1" fill="#3636f0"/>
<rect x="780" y="649" width="1" height="1" fill="#3636f0"/>
<rect x="780" y="647" width="1" height="1" fill="#3636f0"/>
<rect x="780" y="645" width="1" height="1" fill="#3636f0"/>
<rect x="780" y="643" width="1" height="1" fill="#3636f0"/>
<rect x="780" y="641" width="1" height="1" fill="#3636f0"/>
<rect x="780" y="639" width="1" height="1" fill="#3636f0"/>
<rect x="780" y="637" width="1" height="1" fill="#3636f0"/>
<rect x="780" y="635" width="1" height="1" fill="#3636f0"/>
<rect x="780" y="633" width="1" height="1" fill="#3636f0"/>
<rect x="780" y="631" width="1" height="1" fill="#3636f0"/>
<rect x="780" y="629" width="1" height="1" fill="#3636f0"/>
<rect x="780" y="627" width="1" height="1" fill="#3636f0"/>
<rect x="780" y="625" width="1" height="1" fill="#3636f0"/>
<rect x="780" y="623" width="1" height="1" fill="#3636f0"/>
<rect x="780" y="621" width="1" height="1" fill="#3636f0"/>
<rect x="780" y="619" width="1" height="1" fill="#3636f0"/>
<rect x="780" y="617" width="1" height="1" fill="#3636f0"/>
<rect x="790.1" y="544.5" width="5.8" height="121.0" fill="#a9a7c3"/>
<rect x="791" y="663" width="1" height="1" fill="#3636f0"/>
<rect x="791" y="661" width="1" height="1" fill="#3636f0"/>
<rect x="791" y="659" width="1" height="1" fill="#3636f0"/>
<rect x="791" y="657" width="1" height="1" fill="#3636f0"/>
<rect x="791" y="655" width="1" height="1" fill="#3636f0"/>
<rect x="791" y="653" width="1" height="1" fill="#3636f0"/>
<rect x="791" y="651" width="1" height="1" fill="#3636f0"/>
<rect x="791" y="649" width="1" height="1" fill="#3636f0"/>
<rect x="791" y="647" width="1" height="1" fill="#3636f0"/>
<rect x="791" y="645" width="1" height="1" fill="#3636f0"/>
<rect x="791" y="643" width="1" height="1" fill="#3636f0"/>
<rect x="791" y="641" width="1" height="1" fill="#3636f0"/>
<rect x="791" y="639" width="1" height="1" fill="#3636f0"/>
<rect x="791" y="637" width="1" height="1" fill="#3636f0"/>
<rect x="791" y="635" width="1" height="1" fill="#3636f0"/>
<rect x="791" y="633" width="1" height="1" fill="#3636f0"/>
<rect x="791" y="631" width="1" height="1" fill="#3636f0"/>
<rect x="791" y="629" width="1" height="1" fill="#3636f0"/>
<rect x="791" y="627" width="1" height="1" fill="#3636f0"/>
<rect x="791" y="625" width="1" height="1" fill="#3636f0"/>
<rect x="791" y="623" width="1" height="1" fill="#3636f0"/>
<rect x="791" y="621" width="1" height="1" fill="#3636f0"/>
<rect x="791" y="619" width="1" height="1" fill="#3636f0"/>
<rect x="793" y="663" width="1" height="1" fill="#3636f0"/>
<rect x="793" y="661" width="1" height="1" fill="#3636f0"/>
<rect x="793" y="659" width="1" height="1" fill="#3636f0"/>
<rect x="793" y="657" width="1" height="1" fill="#3636f0"/>
<rect x="793" y="655" width="1" height="1" fill="#3636f0"/>
<rect x="793" y="653" width="1" height="1" fill="#3636f0"/>
<rect x="793" y="651" width="1" height="1" fill="#3636f0"/>
<rect x="793" y="649" width="1" height="1" fill="#3636f0"/>
<rect x="793" y="647" width="1" height="1" fill="#3636f0"/>
<rect x="793" y="645" width="1" height="1" fill="#3636f0"/>
<rect x="793" y="643" width="1" height="1" fill="#3636f0"/>
<rect x="793" y="641" width="1" height="1" fill="#3636f0"/>
<rect x="793" y="639" width="1" height="1" fill="#3636f0"/>
<rect x="793" y="637" width="1" height="1" fill="#3636f0"/>
<rect x="793" y="635" width="1" height="1" fill="#3636f0"/>
<rect x="793" y="633" width="1" height="1" fill="#3636f0"/>
<rect x="793" y="631" width="1" height="1" fill="#3636f0"/>
<rect x="793" y="629" width="1" height="1" fill="#3636f0"/>
<rect x="793" y="627" width="1" height="1" fill="#3636f0"/>
<rect x="793" y="625" width="1" height="1" fill="#3636f0"/>
<rect x="793" y="623" width="1" height="1" fill="#3636f0"/>
<rect x="793" y="621" width="1" height="1" fill="#3636f0"/>
<rect x="793" y="619" width="1" height="1" fill="#3636f0"/>
<rect x="795" y="663" width="1" height="1" fill="#3636f0"/>
<rect x="795" y="661" width="1" height="1" fill="#3636f0"/>
<rect x="795" y="659" width="1" height="1" fill="#3636f0"/>
<rect x="795" y="657" width="1" height="1" fill="#3636f0"/>
<rect x="795" y="655" width="1" height="1" fill="#3636f0"/>
<rect x="795" y="653" width="1" height="1" fill="#3636f0"/>
<rect x="795" y="651" width="1" height="1" fill="#3636f0"/>
<rect x="795" y="649" width="1" height="1" fill="#3636f0"/>
<rect x="795" y="647" width="1" height="1" fill="#3636f0"/>
<rect x="795" y="645" width="1" height="1" fill="#3636f0"/>
<rect x="795" y="643" width="1" height="1" fill="#3636f0"/>
<rect x="795" y="641" width="1" height="1" fill="#3636f0"/>
<rect x="795" y="639" width="1" height="1" fill="#3636f0"/>
<rect x="795" y="637" width="1" height="1" fill="#3636f0"/>
<rect x="795" y="635" width="1" height="1" fill="#3636f0"/>
<rect x="795" y="633" width="1" height="1" fill="#3636f0"/>
<rect x="795" y="631" width="1" height="1" fill="#3636f0"/>
<rect x="795" y="629" width="1" height="1" fill="#3636f0"/>
<rect x="795" y="627" width="1" height="1" fill="#3636f0"/>
<rect x="795" y="625" width="1" height="1" fill="#3636f0"/>
<rect x="795" y="623" width="1" height="1" fill="#3636f0"/>
<rect x="795" y="621" width="1" height="1" fill="#3636f0"/>
<rect x="795" y="619" width="1" height="1" fill="#3636f0"/>
<rect x="824.0" y="544.5" width="5.8" height="121.0" fill="#a9a7c3"/>
<rect x="825" y="545" width="1" height="1" fill="#efeef6"/>
<rect x="829" y="545" width="1" height="1" fill="#efeef6"/>
<rect x="826" y="546" width="1" height="1" fill="#efeef6"/>
<rect x="828" y="546" width="1" height="1" fill="#efeef6"/>
<rect x="827" y="547" width="1" height="1" fill="#efeef6"/>
<rect x="827" y="547" width="1" height="1" fill="#efeef6"/>
<rect x="826" y="548" width="1" height="1" fill="#efeef6"/>
<rect x="828" y="548" width="1" height="1" fill="#efeef6"/>
<rect x="825" y="549" width="1" height="1" fill="#efeef6"/>
<rect x="829" y="549" width="1" height="1" fill="#efeef6"/>
<rect x="826" y="550" width="1" height="1" fill="#efeef6"/>
<rect x="828" y="550" width="1" height="1" fill="#efeef6"/>
<rect x="827" y="551" width="1" height="1" fill="#efeef6"/>
<rect x="827" y="551" width="1" height="1" fill="#efeef6"/>
<rect x="826" y="552" width="1" height="1" fill="#efeef6"/>
<rect x="828" y="552" width="1" height="1" fill="#efeef6"/>
<rect x="825" y="553" width="1" height="1" fill="#efeef6"/>
<rect x="829" y="553" width="1" height="1" fill="#efeef6"/>
<rect x="826" y="554" width="1" height="1" fill="#efeef6"/>
<rect x="828" y="554" width="1" height="1" fill="#efeef6"/>
<rect x="827" y="555" width="1" height="1" fill="#efeef6"/>
<rect x="827" y="555" width="1" height="1" fill="#efeef6"/>
<rect x="826" y="556" width="1" height="1" fill="#efeef6"/>
<rect x="828" y="556" width="1" height="1" fill="#efeef6"/>
<rect x="825" y="557" width="1" height="1" fill="#efeef6"/>
<rect x="829" y="557" width="1" height="1" fill="#efeef6"/>
<rect x="826" y="558" width="1" height="1" fill="#efeef6"/>
<rect x="828" y="558" width="1" height="1" fill="#efeef6"/>
<rect x="827" y="559" width="1" height="1" fill="#efeef6"/>
<rect x="827" y="559" width="1" height="1" fill="#efeef6"/>
<rect x="826" y="560" width="1" height="1" fill="#efeef6"/>
<rect x="828" y="560" width="1" height="1" fill="#efeef6"/>
<rect x="825" y="561" width="1" height="1" fill="#efeef6"/>
<rect x="829" y="561" width="1" height="1" fill="#efeef6"/>
<rect x="826" y="562" width="1" height="1" fill="#efeef6"/>
<rect x="828" y="562" width="1" height="1" fill="#efeef6"/>
<rect x="827" y="563" width="1" height="1" fill="#efeef6"/>
<rect x="827" y="563" width="1" height="1" fill="#efeef6"/>
<rect x="826" y="564" width="1" height="1" fill="#efeef6"/>
<rect x="828" y="564" width="1" height="1" fill="#efeef6"/>
<rect x="825" y="565" width="1" height="1" fill="#efeef6"/>
<rect x="829" y="565" width="1" height="1" fill="#efeef6"/>
<rect x="826" y="566" width="1" height="1" fill="#efeef6"/>
<rect x="828" y="566" width="1" height="1" fill="#efeef6"/>
<rect x="827" y="567" width="1" height="1" fill="#efeef6"/>
<rect x="827" y="567" width="1" height="1" fill="#efeef6"/>
<rect x="826" y="568" width="1" height="1" fill="#efeef6"/>
<rect x="828" y="568" width="1" height="1" fill="#efeef6"/>
<rect x="825" y="569" width="1" height="1" fill="#efeef6"/>
<rect x="829" y="569" width="1" height="1" fill="#efeef6"/>
<rect x="826" y="570" width="1" height="1" fill="#efeef6"/>
<rect x="828" y="570" width="1" height="1" fill="#efeef6"/>
<rect x="827" y="571" width="1" height="1" fill="#efeef6"/>
<rect x="827" y="571" width="1" height="1" fill="#efeef6"/>
<rect x="826" y="572" width="1" height="1" fill="#efeef6"/>
<rect x="828" y="572" width="1" height="1" fill="#efeef6"/>
<rect x="825" y="573" width="1" height="1" fill="#efeef6"/>
<rect x="829" y="573" width="1" height="1" fill="#efeef6"/>
<rect x="826" y="574" width="1" height="1" fill="#efeef6"/>
<rect x="828" y="574" width="1" height="1" fill="#efeef6"/>
<rect x="827" y="575" width="1" height="1" fill="#efeef6"/>
<rect x="827" y="575" width="1" height="1" fill="#efeef6"/>
<rect x="826" y="576" width="1" height="1" fill="#efeef6"/>
<rect x="828" y="576" width="1" height="1" fill="#efeef6"/>
<rect x="825" y="577" width="1" height="1" fill="#efeef6"/>
<rect x="829" y="577" width="1" height="1" fill="#efeef6"/>
<rect x="826" y="578" width="1" height="1" fill="#efeef6"/>
<rect x="828" y="578" width="1" height="1" fill="#efeef6"/>
<rect x="827" y="579" width="1" height="1" fill="#efeef6"/>
<rect x="827" y="579" width="1" height="1" fill="#efeef6"/>
<rect x="826" y="580" width="1" height="1" fill="#efeef6"/>
<rect x="828" y="580" width="1" height="1" fill="#efeef6"/>
<rect x="825" y="581" width="1" height="1" fill="#efeef6"/>
<rect x="829" y="581" width="1" height="1" fill="#efeef6"/>
<rect x="826" y="582" width="1" height="1" fill="#efeef6"/>
<rect x="828" y="582" width="1" height="1" fill="#efeef6"/>
<rect x="827" y="583" width="1" height="1" fill="#efeef6"/>
<rect x="827" y="583" width="1" height="1" fill="#efeef6"/>
<rect x="826" y="584" width="1" height="1" fill="#efeef6"/>
<rect x="828" y="584" width="1" height="1" fill="#efeef6"/>
<rect x="825" y="585" width="1" height="1" fill="#efeef6"/>
<rect x="829" y="585" width="1" height="1" fill="#efeef6"/>
<rect x="826" y="586" width="1" height="1" fill="#efeef6"/>
<rect x="828" y="586" width="1" height="1" fill="#efeef6"/>
<rect x="827" y="587" width="1" height="1" fill="#efeef6"/>
<rect x="827" y="587" width="1" height="1" fill="#efeef6"/>
<rect x="826" y="588" width="1" height="1" fill="#efeef6"/>
<rect x="828" y="588" width="1" height="1" fill="#efeef6"/>
<rect x="825" y="589" width="1" height="1" fill="#efeef6"/>
<rect x="829" y="589" width="1" height="1" fill="#efeef6"/>
<rect x="826" y="590" width="1" height="1" fill="#efeef6"/>
<rect x="828" y="590" width="1" height="1" fill="#efeef6"/>
<rect x="827" y="591" width="1" height="1" fill="#efeef6"/>
<rect x="827" y="591" width="1" height="1" fill="#efeef6"/>
<rect x="826" y="592" width="1" height="1" fill="#efeef6"/>
<rect x="828" y="592" width="1" height="1" fill="#efeef6"/>
<rect x="825" y="593" width="1" height="1" fill="#efeef6"/>
<rect x="829" y="593" width="1" height="1" fill="#efeef6"/>
<rect x="826" y="594" width="1" height="1" fill="#efeef6"/>
<rect x="828" y="594" width="1" height="1" fill="#efeef6"/>
<rect x="827" y="595" width="1" height="1" fill="#efeef6"/>
<rect x="827" y="595" width="1" height="1" fill="#efeef6"/>
<rect x="826" y="596" width="1" height="1" fill="#efeef6"/>
<rect x="828" y="596" width="1" height="1" fill="#efeef6"/>
<rect x="825" y="597" width="1" height="1" fill="#efeef6"/>
<rect x="829" y="597" width="1" height="1" fill="#efeef6"/>
<rect x="826" y="598" width="1" height="1" fill="#efeef6"/>
<rect x="828" y="598" width="1" height="1" fill="#efeef6"/>
<rect x="827" y="599" width="1" height="1" fill="#efeef6"/>
<rect x="827" y="599" width="1" height="1" fill="#efeef6"/>
<rect x="826" y="600" width="1" height="1" fill="#efeef6"/>
<rect x="828" y="600" width="1" height="1" fill="#efeef6"/>
<rect x="825" y="601" width="1" height="1" fill="#efeef6"/>
<rect x="829" y="601" width="1" height="1" fill="#efeef6"/>
<rect x="826" y="602" width="1" height="1" fill="#efeef6"/>
<rect x="828" y="602" width="1" height="1" fill="#efeef6"/>
<rect x="827" y="603" width="1" height="1" fill="#efeef6"/>
<rect x="827" y="603" width="1" height="1" fill="#efeef6"/>
<rect x="826" y="604" width="1" height="1" fill="#efeef6"/>
<rect x="828" y="604" width="1" height="1" fill="#efeef6"/>
<rect x="825" y="605" width="1" height="1" fill="#efeef6"/>
<rect x="829" y="605" width="1" height="1" fill="#efeef6"/>
<rect x="826" y="606" width="1" height="1" fill="#efeef6"/>
<rect x="828" y="606" width="1" height="1" fill="#efeef6"/>
<rect x="827" y="607" width="1" height="1" fill="#efeef6"/>
<rect x="827" y="607" width="1" height="1" fill="#efeef6"/>
<rect x="826" y="608" width="1" height="1" fill="#efeef6"/>
<rect x="828" y="608" width="1" height="1" fill="#efeef6"/>
<rect x="825" y="609" width="1" height="1" fill="#efeef6"/>
<rect x="829" y="609" width="1" height="1" fill="#efeef6"/>
<rect x="826" y="610" width="1" height="1" fill="#efeef6"/>
<rect x="828" y="610" width="1" height="1" fill="#efeef6"/>
<rect x="827" y="611" width="1" height="1" fill="#efeef6"/>
<rect x="827" y="611" width="1" height="1" fill="#efeef6"/>
<rect x="826" y="612" width="1" height="1" fill="#efeef6"/>
<rect x="828" y="612" width="1" height="1" fill="#efeef6"/>
<rect x="825" y="613" width="1" height="1" fill="#efeef6"/>
<rect x="829" y="613" width="1" height="1" fill="#efeef6"/>
<rect x="826" y="614" width="1" height="1" fill="#efeef6"/>
<rect x="828" y="614" width="1" height="1" fill="#efeef6"/>
<rect x="827" y="615" width="1" height="1" fill="#efeef6"/>
<rect x="827" y="615" width="1" height="1" fill="#efeef6"/>
<rect x="826" y="616" width="1" height="1" fill="#efeef6"/>
<rect x="828" y="616" width="1" height="1" fill="#efeef6"/>
<rect x="825" y="617" width="1" height="1" fill="#efeef6"/>
<rect x="829" y="617" width="1" height="1" fill="#efeef6"/>
<rect x="826" y="618" width="1" height="1" fill="#efeef6"/>
<rect x="828" y="618" width="1" height="1" fill="#efeef6"/>
<rect x="827" y="619" width="1" height="1" fill="#efeef6"/>
<rect x="827" y="619" width="1" height="1" fill="#efeef6"/>
<rect x="826" y="620" width="1" height="1" fill="#efeef6"/>
<rect x="828" y="620" width="1" height="1" fill="#efeef6"/>
<rect x="825" y="621" width="1" height="1" fill="#efeef6"/>
<rect x="829" y="621" width="1" height="1" fill="#efeef6"/>
<rect x="826" y="622" width="1" height="1" fill="#efeef6"/>
<rect x="828" y="622" width="1" height="1" fill="#efeef6"/>
<rect x="827" y="623" width="1" height="1" fill="#efeef6"/>
<rect x="827" y="623" width="1" height="1" fill="#efeef6"/>
<rect x="826" y="624" width="1" height="1" fill="#efeef6"/>
<rect x="828" y="624" width="1" height="1" fill="#efeef6"/>
<rect x="825" y="625" width="1" height="1" fill="#efeef6"/>
<rect x="829" y="625" width="1" height="1" fill="#efeef6"/>
<rect x="826" y="626" width="1" height="1" fill="#efeef6"/>
<rect x="828" y="626" width="1" height="1" fill="#efeef6"/>
<rect x="827" y="627" width="1" height="1" fill="#efeef6"/>
<rect x="827" y="627" width="1" height="1" fill="#efeef6"/>
<rect x="826" y="628" width="1" height="1" fill="#efeef6"/>
<rect x="828" y="628" width="1" height="1" fill="#efeef6"/>
<rect x="825" y="629" width="1" height="1" fill="#efeef6"/>
<rect x="829" y="629" width="1" height="1" fill="#efeef6"/>
<rect x="826" y="630" width="1" height="1" fill="#efeef6"/>
<rect x="828" y="630" width="1" height="1" fill="#efeef6"/>
<rect x="827" y="631" width="1" height="1" fill="#efeef6"/>
<rect x="827" y="631" width="1" height="1" fill="#efeef6"/>
<rect x="826" y="632" width="1" height="1" fill="#efeef6"/>
<rect x="828" y="632" width="1" height="1" fill="#efeef6"/>
<rect x="825" y="633" width="1" height="1" fill="#efeef6"/>
<rect x="829" y="633" width="1" height="1" fill="#efeef6"/>
<rect x="826" y="634" width="1" height="1" fill="#efeef6"/>
<rect x="828" y="634" width="1" height="1" fill="#efeef6"/>
<rect x="827" y="635" width="1" height="1" fill="#efeef6"/>
<rect x="827" y="635" width="1" height="1" fill="#efeef6"/>
<rect x="826" y="636" width="1" height="1" fill="#efeef6"/>
<rect x="828" y="636" width="1" height="1" fill="#efeef6"/>
<rect x="825" y="637" width="1" height="1" fill="#efeef6"/>
<rect x="829" y="637" width="1" height="1" fill="#efeef6"/>
<rect x="826" y="638" width="1" height="1" fill="#efeef6"/>
<rect x="828" y="638" width="1" height="1" fill="#efeef6"/>
<rect x="827" y="639" width="1" height="1" fill="#efeef6"/>
<rect x="827" y="639" width="1" height="1" fill="#efeef6"/>
<rect x="827" y="663" width="1" height="1" fill="#3636f0"/>
<rect x="828" y="661" width="1" height="1" fill="#3636f0"/>
<rect x="829" y="659" width="1" height="1" fill="#3636f0"/>
<rect x="828" y="657" width="1" height="1" fill="#3636f0"/>
<rect x="827" y="655" width="1" height="1" fill="#3636f0"/>
<rect x="826" y="653" width="1" height="1" fill="#3636f0"/>
<rect x="825" y="651" width="1" height="1" fill="#3636f0"/>
<rect x="826" y="649" width="1" height="1" fill="#3636f0"/>
<rect x="827" y="647" width="1" height="1" fill="#3636f0"/>
<rect x="828" y="645" width="1" height="1" fill="#3636f0"/>
<rect x="829" y="643" width="1" height="1" fill="#3636f0"/>
<rect x="828" y="641" width="1" height="1" fill="#3636f0"/>
<rect x="827" y="639" width="1" height="1" fill="#3636f0"/>
<rect x="826" y="637" width="1" height="1" fill="#3636f0"/>
<rect x="825" y="635" width="1" height="1" fill="#3636f0"/>
<rect x="826" y="633" width="1" height="1" fill="#3636f0"/>
<rect x="827" y="631" width="1" height="1" fill="#3636f0"/>
<rect x="828" y="629" width="1" height="1" fill="#3636f0"/>
<rect x="829" y="627" width="1" height="1" fill="#3636f0"/>
<rect x="828" y="625" width="1" height="1" fill="#3636f0"/>
<rect x="827" y="623" width="1" height="1" fill="#3636f0"/>
<rect x="826" y="621" width="1" height="1" fill="#3636f0"/>
<rect x="825" y="619" width="1" height="1" fill="#3636f0"/>
<rect x="826" y="617" width="1" height="1" fill="#3636f0"/>
<rect x="827" y="615" width="1" height="1" fill="#3636f0"/>
<rect x="828" y="613" width="1" height="1" fill="#3636f0"/>
<rect x="433.3" y="544.5" width="5.5" height="121.0" fill="#e8584d"/>
<rect x="434.4" y="544.5" width="3.4" height="121.0" fill="url(#pWide2)"/>
<rect x="659.2" y="544.5" width="5.7" height="121.0" fill="#e8584d"/>
<rect x="660.3" y="544.5" width="3.5" height="121.0" fill="url(#pWide2)"/>
<rect x="660.3" y="640" width="3.5" height="26" fill="url(#pGrnDot)"/>
<rect x="726.3" y="544.5" width="19.7" height="121.0" fill="#e8584d"/>
<rect x="727.6" y="544.5" width="17.0" height="47.5" fill="url(#pWide)"/>
<rect x="733" y="592" width="6" height="73.5" fill="url(#pWide)"/>
<rect x="739" y="592" width="5.6" height="26" fill="url(#pWide)"/>
<rect x="727.6" y="592" width="5.4" height="73.5" fill="url(#pSparse)"/>
<rect x="739" y="618" width="5.6" height="47.5" fill="url(#pSparse)"/>
<rect x="727.6" y="592" width="5.4" height="73.5" fill="url(#pGrnDot)"/>
<rect x="739" y="618" width="5.6" height="47.5" fill="url(#pGrnDot)"/>
<rect x="1013.0" y="544.5" width="9.2" height="121.0" fill="#f3eaec"/>
<rect x="1013" y="544.5" width="1" height="121.0" fill="url(#pDotV)"/>
<rect x="1021" y="544.5" width="1" height="121.0" fill="url(#pDotV)"/>
<rect x="1016" y="547" width="1" height="1" fill="#e8584d"/>
<rect x="1019" y="548" width="1" height="1" fill="#e8584d"/>
<rect x="1017" y="551" width="1" height="1" fill="#e8584d"/>
<rect x="1015" y="553" width="1" height="1" fill="#e8584d"/>
<rect x="1018" y="555" width="1" height="1" fill="#e8584d"/>
<rect x="1020" y="557" width="1" height="1" fill="#e8584d"/>
<rect x="1016" y="559" width="1" height="1" fill="#e8584d"/>
<rect x="1019" y="561" width="1" height="1" fill="#e8584d"/>
<rect x="1017" y="563" width="1" height="1" fill="#e8584d"/>
<rect x="1020" y="566" width="1" height="1" fill="#e8584d"/>
<rect x="1019" y="569" width="1" height="1" fill="#e8584d"/>
<rect x="1014.7" y="564.9" width="2.7" height="100.6" fill="#e8584d"/>
<rect x="1017.4" y="573.2" width="3.0" height="92.3" fill="#e8584d"/>
<rect x="1016" y="566" width="1" height="88" fill="url(#pDotL)"/>
<rect x="1019" y="575" width="1" height="79" fill="url(#pDotL)"/>
<rect x="1015.0" y="654" width="6.0" height="11.5" fill="url(#pRedX)"/>
</g>
<rect x="80.5" y="26.5" width="990.0" height="122.0" fill="none" stroke="#1e3022" stroke-width="1"/>
<line x1="199.5" x2="199.5" y1="149.0" y2="163.0" stroke="#2f5a3a" stroke-width="1"/>
<text x="179.85" y="174.0" font-size="11.2" fill="#2b5233" textLength="39.3" lengthAdjust="spacingAndGlyphs">2021-05</text>
<line x1="350.5" x2="350.5" y1="149.0" y2="163.0" stroke="#2f5a3a" stroke-width="1"/>
<text x="330.85" y="174.0" font-size="11.2" fill="#2b5233" textLength="39.3" lengthAdjust="spacingAndGlyphs">2021-07</text>
<line x1="503.5" x2="503.5" y1="149.0" y2="163.0" stroke="#2f5a3a" stroke-width="1"/>
<text x="483.85" y="174.0" font-size="11.2" fill="#2b5233" textLength="39.3" lengthAdjust="spacingAndGlyphs">2021-09</text>
<line x1="654.5" x2="654.5" y1="149.0" y2="163.0" stroke="#2f5a3a" stroke-width="1"/>
<text x="634.85" y="174.0" font-size="11.2" fill="#2b5233" textLength="39.3" lengthAdjust="spacingAndGlyphs">2021-11</text>
<line x1="805.5" x2="805.5" y1="149.0" y2="163.0" stroke="#2f5a3a" stroke-width="1"/>
<text x="785.85" y="174.0" font-size="11.2" fill="#2b5233" textLength="39.3" lengthAdjust="spacingAndGlyphs">2022-01</text>
<line x1="950.5" x2="950.5" y1="149.0" y2="163.0" stroke="#2f5a3a" stroke-width="1"/>
<text x="930.85" y="174.0" font-size="11.2" fill="#2b5233" textLength="39.3" lengthAdjust="spacingAndGlyphs">2022-03</text>
<line x1="66.0" x2="80.0" y1="33.5" y2="33.5" stroke="#2f5a3a" stroke-width="1"/>
<text x="33.40" y="37.6" font-size="11.2" fill="#2b5233" textLength="28.9" lengthAdjust="spacingAndGlyphs">15000</text>
<line x1="66.0" x2="80.0" y1="72.5" y2="72.5" stroke="#2f5a3a" stroke-width="1"/>
<text x="33.40" y="76.6" font-size="11.2" fill="#2b5233" textLength="28.9" lengthAdjust="spacingAndGlyphs">10000</text>
<line x1="66.0" x2="80.0" y1="111.5" y2="111.5" stroke="#2f5a3a" stroke-width="1"/>
<text x="39.18" y="115.6" font-size="11.2" fill="#2b5233" textLength="23.1" lengthAdjust="spacingAndGlyphs">5000</text>
<text transform="translate(22.7,136.6) rotate(-90)" font-size="15.0" fill="#2b5233" textLength="95.5" lengthAdjust="spacingAndGlyphs">News Volume</text>
<rect x="80.5" y="199.5" width="990.0" height="121.0" fill="none" stroke="#1e3022" stroke-width="1"/>
<line x1="202.5" x2="202.5" y1="321.0" y2="335.0" stroke="#2f5a3a" stroke-width="1"/>
<text x="182.85" y="346.0" font-size="11.2" fill="#2b5233" textLength="39.3" lengthAdjust="spacingAndGlyphs">2021-05</text>
<line x1="352.5" x2="352.5" y1="321.0" y2="335.0" stroke="#2f5a3a" stroke-width="1"/>
<text x="332.85" y="346.0" font-size="11.2" fill="#2b5233" textLength="39.3" lengthAdjust="spacingAndGlyphs">2021-07</text>
<line x1="505.5" x2="505.5" y1="321.0" y2="335.0" stroke="#2f5a3a" stroke-width="1"/>
<text x="485.85" y="346.0" font-size="11.2" fill="#2b5233" textLength="39.3" lengthAdjust="spacingAndGlyphs">2021-09</text>
<line x1="655.5" x2="655.5" y1="321.0" y2="335.0" stroke="#2f5a3a" stroke-width="1"/>
<text x="635.85" y="346.0" font-size="11.2" fill="#2b5233" textLength="39.3" lengthAdjust="spacingAndGlyphs">2021-11</text>
<line x1="805.5" x2="805.5" y1="321.0" y2="335.0" stroke="#2f5a3a" stroke-width="1"/>
<text x="785.85" y="346.0" font-size="11.2" fill="#2b5233" textLength="39.3" lengthAdjust="spacingAndGlyphs">2022-01</text>
<line x1="951.5" x2="951.5" y1="321.0" y2="335.0" stroke="#2f5a3a" stroke-width="1"/>
<text x="931.85" y="346.0" font-size="11.2" fill="#2b5233" textLength="39.3" lengthAdjust="spacingAndGlyphs">2022-03</text>
<line x1="66.0" x2="80.0" y1="218.5" y2="218.5" stroke="#2f5a3a" stroke-width="1"/>
<text x="44.96" y="222.6" font-size="11.2" fill="#2b5233" textLength="17.3" lengthAdjust="spacingAndGlyphs">600</text>
<line x1="66.0" x2="80.0" y1="251.5" y2="251.5" stroke="#2f5a3a" stroke-width="1"/>
<text x="44.96" y="255.6" font-size="11.2" fill="#2b5233" textLength="17.3" lengthAdjust="spacingAndGlyphs">400</text>
<line x1="66.0" x2="80.0" y1="284.5" y2="284.5" stroke="#2f5a3a" stroke-width="1"/>
<text x="44.96" y="288.6" font-size="11.2" fill="#2b5233" textLength="17.3" lengthAdjust="spacingAndGlyphs">200</text>
<line x1="66.0" x2="80.0" y1="317.5" y2="317.5" stroke="#2f5a3a" stroke-width="1"/>
<text x="56.52" y="321.6" font-size="11.2" fill="#2b5233" textLength="5.8" lengthAdjust="spacingAndGlyphs">0</text>
<text transform="translate(36.4,320.3) rotate(-90)" font-size="15.0" fill="#2b5233" textLength="114.6" lengthAdjust="spacingAndGlyphs">News Sentiment</text>
<rect x="80.5" y="371.5" width="990.0" height="122.0" fill="none" stroke="#1e3022" stroke-width="1"/>
<line x1="199.5" x2="199.5" y1="494.0" y2="508.0" stroke="#2f5a3a" stroke-width="1"/>
<text x="179.85" y="519.0" font-size="11.2" fill="#2b5233" textLength="39.3" lengthAdjust="spacingAndGlyphs">2021-05</text>
<line x1="350.5" x2="350.5" y1="494.0" y2="508.0" stroke="#2f5a3a" stroke-width="1"/>
<text x="330.85" y="519.0" font-size="11.2" fill="#2b5233" textLength="39.3" lengthAdjust="spacingAndGlyphs">2021-07</text>
<line x1="503.5" x2="503.5" y1="494.0" y2="508.0" stroke="#2f5a3a" stroke-width="1"/>
<text x="483.85" y="519.0" font-size="11.2" fill="#2b5233" textLength="39.3" lengthAdjust="spacingAndGlyphs">2021-09</text>
<line x1="654.5" x2="654.5" y1="494.0" y2="508.0" stroke="#2f5a3a" stroke-width="1"/>
<text x="634.85" y="519.0" font-size="11.2" fill="#2b5233" textLength="39.3" lengthAdjust="spacingAndGlyphs">2021-11</text>
<line x1="805.5" x2="805.5" y1="494.0" y2="508.0" stroke="#2f5a3a" stroke-width="1"/>
<text x="785.85" y="519.0" font-size="11.2" fill="#2b5233" textLength="39.3" lengthAdjust="spacingAndGlyphs">2022-01</text>
<line x1="950.5" x2="950.5" y1="494.0" y2="508.0" stroke="#2f5a3a" stroke-width="1"/>
<text x="930.85" y="519.0" font-size="11.2" fill="#2b5233" textLength="39.3" lengthAdjust="spacingAndGlyphs">2022-03</text>
<line x1="66.0" x2="80.0" y1="377.5" y2="377.5" stroke="#2f5a3a" stroke-width="1"/>
<text x="42.06" y="381.6" font-size="11.2" fill="#2b5233" textLength="20.2" lengthAdjust="spacingAndGlyphs">52.5</text>
<line x1="66.0" x2="80.0" y1="402.5" y2="402.5" stroke="#2f5a3a" stroke-width="1"/>
<text x="42.06" y="406.6" font-size="11.2" fill="#2b5233" textLength="20.2" lengthAdjust="spacingAndGlyphs">50.0</text>
<line x1="66.0" x2="80.0" y1="427.5" y2="427.5" stroke="#2f5a3a" stroke-width="1"/>
<text x="42.06" y="431.6" font-size="11.2" fill="#2b5233" textLength="20.2" lengthAdjust="spacingAndGlyphs">47.5</text>
<line x1="66.0" x2="80.0" y1="452.5" y2="452.5" stroke="#2f5a3a" stroke-width="1"/>
<text x="42.06" y="456.6" font-size="11.2" fill="#2b5233" textLength="20.2" lengthAdjust="spacingAndGlyphs">45.0</text>
<line x1="66.0" x2="80.0" y1="476.5" y2="476.5" stroke="#2f5a3a" stroke-width="1"/>
<text x="42.06" y="480.6" font-size="11.2" fill="#2b5233" textLength="20.2" lengthAdjust="spacingAndGlyphs">42.5</text>
<text transform="translate(32.9,482.9) rotate(-90)" font-size="15.0" fill="#2b5233" textLength="98.1" lengthAdjust="spacingAndGlyphs">Price (in USD)</text>
<rect x="80.5" y="544.5" width="990.0" height="121.0" fill="none" stroke="#1e3022" stroke-width="1"/>
<line x1="202.5" x2="202.5" y1="666.0" y2="680.0" stroke="#2f5a3a" stroke-width="1"/>
<text x="182.85" y="691.0" font-size="11.2" fill="#2b5233" textLength="39.3" lengthAdjust="spacingAndGlyphs">2021-05</text>
<line x1="352.5" x2="352.5" y1="666.0" y2="680.0" stroke="#2f5a3a" stroke-width="1"/>
<text x="332.85" y="691.0" font-size="11.2" fill="#2b5233" textLength="39.3" lengthAdjust="spacingAndGlyphs">2021-07</text>
<line x1="504.5" x2="504.5" y1="666.0" y2="680.0" stroke="#2f5a3a" stroke-width="1"/>
<text x="484.85" y="691.0" font-size="11.2" fill="#2b5233" textLength="39.3" lengthAdjust="spacingAndGlyphs">2021-09</text>
<line x1="654.5" x2="654.5" y1="666.0" y2="680.0" stroke="#2f5a3a" stroke-width="1"/>
<text x="634.85" y="691.0" font-size="11.2" fill="#2b5233" textLength="39.3" lengthAdjust="spacingAndGlyphs">2021-11</text>
<line x1="804.5" x2="804.5" y1="666.0" y2="680.0" stroke="#2f5a3a" stroke-width="1"/>
<text x="784.85" y="691.0" font-size="11.2" fill="#2b5233" textLength="39.3" lengthAdjust="spacingAndGlyphs">2022-01</text>
<line x1="950.5" x2="950.5" y1="666.0" y2="680.0" stroke="#2f5a3a" stroke-width="1"/>
<text x="930.85" y="691.0" font-size="11.2" fill="#2b5233" textLength="39.3" lengthAdjust="spacingAndGlyphs">2022-03</text>
<line x1="66.0" x2="80.0" y1="547.5" y2="547.5" stroke="#2f5a3a" stroke-width="1"/>
<text x="27.62" y="551.6" font-size="11.2" fill="#2b5233" textLength="34.7" lengthAdjust="spacingAndGlyphs">400000</text>
<line x1="66.0" x2="80.0" y1="577.5" y2="577.5" stroke="#2f5a3a" stroke-width="1"/>
<text x="27.62" y="581.6" font-size="11.2" fill="#2b5233" textLength="34.7" lengthAdjust="spacingAndGlyphs">300000</text>
<line x1="66.0" x2="80.0" y1="606.5" y2="606.5" stroke="#2f5a3a" stroke-width="1"/>
<text x="27.62" y="610.6" font-size="11.2" fill="#2b5233" textLength="34.7" lengthAdjust="spacingAndGlyphs">200000</text>
<line x1="66.0" x2="80.0" y1="636.5" y2="636.5" stroke="#2f5a3a" stroke-width="1"/>
<text x="27.62" y="640.6" font-size="11.2" fill="#2b5233" textLength="34.7" lengthAdjust="spacingAndGlyphs">100000</text>
<line x1="66.0" x2="80.0" y1="665.5" y2="665.5" stroke="#2f5a3a" stroke-width="1"/>
<text x="56.52" y="669.6" font-size="11.2" fill="#2b5233" textLength="5.8" lengthAdjust="spacingAndGlyphs">0</text>
<text transform="translate(16.9,631.7) rotate(-90)" font-size="15.0" fill="#2b5233" textLength="50.6" lengthAdjust="spacingAndGlyphs">Volume</text>
<line x1="1071.0" x2="1074.5" y1="199.5" y2="199.5" stroke="#152a1a" stroke-width="1"/>
<text x="1077.7" y="203.6" font-size="10.9" fill="#152a1a">1.0</text>
<line x1="1071.0" x2="1074.5" y1="229.5" y2="229.5" stroke="#152a1a" stroke-width="1"/>
<text x="1077.7" y="233.6" font-size="10.9" fill="#152a1a">0.5</text>
<line x1="1071.0" x2="1074.5" y1="259.5" y2="259.5" stroke="#152a1a" stroke-width="1"/>
<text x="1077.7" y="263.6" font-size="10.9" fill="#152a1a">0.0</text>
<line x1="1071.0" x2="1074.5" y1="290.5" y2="290.5" stroke="#152a1a" stroke-width="1"/>
<text x="1077.7" y="294.6" font-size="10.9" fill="#152a1a">−0.5</text>
<line x1="1071.0" x2="1074.5" y1="320.5" y2="320.5" stroke="#152a1a" stroke-width="1"/>
<text x="1077.7" y="324.6" font-size="10.9" fill="#152a1a">−1.0</text>
<rect x="934.5" y="204.5" width="131.0" height="17.2" rx="2" fill="#fff" fill-opacity="0.8" stroke="#e8dadf" stroke-width="1"/>
<line x1="938.8" x2="958.4" y1="212.5" y2="212.5" stroke="#e8584d" stroke-width="1.0" stroke-dasharray="3.7,1.6"/>
<text x="966.2" y="216.1" font-size="10.8" fill="#16301d" textLength="94.4" lengthAdjust="spacingAndGlyphs">Average sentiment</text>
<text x="547.9" y="20.7" font-size="17.5" font-weight="bold" fill="#1d2f20" stroke="#1d2f20" stroke-width="0.35" textLength="39.3" lengthAdjust="spacingAndGlyphs">XPH</text>
<rect x="14.1" y="679.9" width="2.1" height="10.7" fill="#4a6b52"/>
<rect x="22.7" y="679.9" width="2.0" height="10.7" fill="#4a6b52"/>
<rect x="14.1" y="679.9" width="10.6" height="2.3" fill="#4a6b52"/>
<rect x="14.1" y="685.3" width="10.6" height="1.7" fill="#4a6b52"/>
<rect x="26.6" y="680.3" width="2.0" height="6.5" fill="#4a6b52"/>
<rect x="36.7" y="680.3" width="2.0" height="6.5" fill="#4a6b52"/>
<rect x="26.6" y="684.7" width="12.1" height="2.1" fill="#4a6b52"/>
<rect x="31.9" y="685.3" width="2.3" height="5.3" fill="#4a6b52"/>
<rect x="41.0" y="679.9" width="2.3" height="10.7" fill="#4a6b52"/>
<rect x="41.0" y="688.8" width="11.0" height="1.8" fill="#4a6b52"/>
<rect x="54.3" y="679.9" width="2.0" height="10.7" fill="#4a6b52"/>
<rect x="58.5" y="679.9" width="2.2" height="10.7" fill="#4a6b52"/>
<rect x="58.5" y="679.9" width="11.3" height="2.3" fill="#4a6b52"/>
<rect x="58.5" y="684.6" width="7.3" height="1.9" fill="#4a6b52"/>
<rect x="58.5" y="688.8" width="11.3" height="1.8" fill="#4a6b52"/>
<rect x="72.1" y="679.9" width="2.0" height="10.7" fill="#4a6b52"/>
<rect x="80.9" y="679.9" width="2.2" height="10.7" fill="#4a6b52"/>
<rect x="72.1" y="679.9" width="11.0" height="2.3" fill="#4a6b52"/>
</svg>
</body></html>
